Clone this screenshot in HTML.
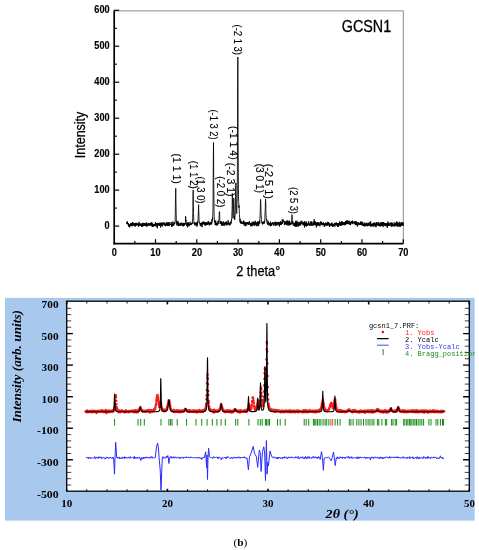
<!DOCTYPE html>
<html><head><meta charset="utf-8"><title>XRD patterns</title><style>
html,body{margin:0;padding:0;background:#fff;width:479px;height:550px;overflow:hidden}
svg{display:block}
.tl{font-family:"Liberation Sans",Arial,sans-serif;font-weight:bold;font-size:10.3px;fill:#000;stroke:#000;stroke-width:0.15px}
.al{font-family:"Liberation Sans",Arial,sans-serif;font-size:14px;fill:#000;stroke:#000;stroke-width:0.25px}
.al2{font-family:"Liberation Sans",Arial,sans-serif;font-size:14px;fill:#000;stroke:#000;stroke-width:0.25px}
.gc{font-family:"Liberation Sans",Arial,sans-serif;font-size:16.4px;fill:#000;stroke:#000;stroke-width:0.3px}
.pk{font-family:"Liberation Sans",Arial,sans-serif;font-size:10.2px;fill:#000;stroke:#000;stroke-width:0.12px}
.bl{font-family:"Liberation Serif","Times New Roman",serif;font-weight:bold;font-size:10.6px;fill:#000}
.by{font-family:"Liberation Serif","Times New Roman",serif;font-weight:bold;font-style:italic;font-size:11.8px;fill:#000}
.by2{font-family:"Liberation Serif","Times New Roman",serif;font-weight:bold;font-style:italic;font-size:13px;fill:#000}
.lg{font-family:"Liberation Mono","Courier New",monospace;font-size:7px}
.cap{font-family:"Liberation Serif","Times New Roman",serif;font-size:11.3px;fill:#000}
</style></head>
<body>
<svg width="479" height="550" viewBox="0 0 479 550">
<defs><clipPath id="cb"><rect x="0" y="0" width="474.8" height="550"/></clipPath></defs>
<rect width="479" height="550" fill="#fff"/>
<line x1="114.2" y1="10.9" x2="403.3" y2="10.9" stroke="#8a8a8a" stroke-width="1"/><line x1="403.3" y1="10.9" x2="403.3" y2="243.6" stroke="#8a8a8a" stroke-width="1"/><line x1="114.2" y1="10.4" x2="114.2" y2="244.4" stroke="#000" stroke-width="1.7"/><line x1="113.4" y1="243.6" x2="403.3" y2="243.6" stroke="#000" stroke-width="1.6"/><line x1="114.2" y1="226.1" x2="119.2" y2="226.1" stroke="#000" stroke-width="1.2"/><line x1="114.2" y1="208.1" x2="116.8" y2="208.1" stroke="#000" stroke-width="1.2"/><line x1="114.2" y1="190.1" x2="119.2" y2="190.1" stroke="#000" stroke-width="1.2"/><line x1="114.2" y1="172.1" x2="116.8" y2="172.1" stroke="#000" stroke-width="1.2"/><line x1="114.2" y1="154.2" x2="119.2" y2="154.2" stroke="#000" stroke-width="1.2"/><line x1="114.2" y1="136.2" x2="116.8" y2="136.2" stroke="#000" stroke-width="1.2"/><line x1="114.2" y1="118.2" x2="119.2" y2="118.2" stroke="#000" stroke-width="1.2"/><line x1="114.2" y1="100.2" x2="116.8" y2="100.2" stroke="#000" stroke-width="1.2"/><line x1="114.2" y1="82.2" x2="119.2" y2="82.2" stroke="#000" stroke-width="1.2"/><line x1="114.2" y1="64.2" x2="116.8" y2="64.2" stroke="#000" stroke-width="1.2"/><line x1="114.2" y1="46.2" x2="119.2" y2="46.2" stroke="#000" stroke-width="1.2"/><line x1="114.2" y1="28.3" x2="116.8" y2="28.3" stroke="#000" stroke-width="1.2"/><line x1="114.2" y1="10.3" x2="119.2" y2="10.3" stroke="#000" stroke-width="1.2"/><line x1="134.8" y1="243.6" x2="134.8" y2="241.0" stroke="#000" stroke-width="1.2"/><line x1="155.5" y1="243.6" x2="155.5" y2="239.2" stroke="#000" stroke-width="1.2"/><line x1="176.2" y1="243.6" x2="176.2" y2="241.0" stroke="#000" stroke-width="1.2"/><line x1="196.8" y1="243.6" x2="196.8" y2="239.2" stroke="#000" stroke-width="1.2"/><line x1="217.4" y1="243.6" x2="217.4" y2="241.0" stroke="#000" stroke-width="1.2"/><line x1="238.1" y1="243.6" x2="238.1" y2="239.2" stroke="#000" stroke-width="1.2"/><line x1="258.8" y1="243.6" x2="258.8" y2="241.0" stroke="#000" stroke-width="1.2"/><line x1="279.4" y1="243.6" x2="279.4" y2="239.2" stroke="#000" stroke-width="1.2"/><line x1="300.1" y1="243.6" x2="300.1" y2="241.0" stroke="#000" stroke-width="1.2"/><line x1="320.7" y1="243.6" x2="320.7" y2="239.2" stroke="#000" stroke-width="1.2"/><line x1="341.4" y1="243.6" x2="341.4" y2="241.0" stroke="#000" stroke-width="1.2"/><line x1="362.0" y1="243.6" x2="362.0" y2="239.2" stroke="#000" stroke-width="1.2"/><line x1="382.6" y1="243.6" x2="382.6" y2="241.0" stroke="#000" stroke-width="1.2"/><line x1="403.3" y1="243.6" x2="403.3" y2="239.2" stroke="#000" stroke-width="1.2"/>
<polyline points="126.4,223.1 126.5,222.6 126.6,223.2 126.8,223.8 126.9,223.2 127.0,223.9 127.1,222.6 127.3,221.2 127.4,223.4 127.5,223.7 127.6,222.5 127.7,222.8 127.9,223.3 128.0,224.6 128.1,223.7 128.2,223.0 128.4,225.5 128.5,224.6 128.6,226.4 128.7,225.8 128.9,226.5 129.0,224.6 129.1,225.9 129.2,224.1 129.4,224.2 129.5,224.7 129.6,227.4 129.7,225.1 129.9,224.5 130.0,224.3 130.1,226.3 130.2,225.0 130.3,225.6 130.5,225.4 130.6,223.2 130.7,225.4 130.8,224.5 131.0,223.4 131.1,225.2 131.2,224.6 131.3,224.3 131.5,224.4 131.6,225.9 131.7,224.4 131.8,222.9 132.0,226.3 132.1,223.5 132.2,224.3 132.3,225.2 132.5,222.1 132.6,223.6 132.7,225.9 132.8,224.4 133.0,223.8 133.1,224.7 133.2,223.7 133.3,224.6 133.4,223.7 133.6,222.8 133.7,225.3 133.8,224.2 133.9,225.0 134.1,224.3 134.2,225.9 134.3,225.2 134.4,224.7 134.6,223.4 134.7,223.1 134.8,226.0 134.9,225.4 135.1,223.7 135.2,226.8 135.3,225.0 135.4,224.6 135.6,223.0 135.7,223.7 135.8,224.9 135.9,224.9 136.0,224.8 136.2,222.7 136.3,225.0 136.4,224.8 136.5,224.1 136.7,224.6 136.8,224.7 136.9,225.8 137.0,224.5 137.2,225.0 137.3,223.1 137.4,223.7 137.5,224.5 137.7,223.7 137.8,224.9 137.9,223.2 138.0,224.5 138.2,223.8 138.3,226.0 138.4,224.1 138.5,226.5 138.6,226.9 138.8,224.8 138.9,225.5 139.0,224.3 139.1,221.8 139.3,225.5 139.4,225.2 139.5,224.2 139.6,223.9 139.8,224.7 139.9,224.7 140.0,223.6 140.1,223.9 140.3,225.7 140.4,224.6 140.5,224.4 140.6,225.7 140.8,224.2 140.9,225.5 141.0,223.3 141.1,224.2 141.3,224.4 141.4,225.2 141.5,224.6 141.6,226.8 141.7,225.8 141.9,224.0 142.0,227.0 142.1,223.5 142.2,226.5 142.4,223.6 142.5,225.5 142.6,223.5 142.7,224.3 142.9,226.3 143.0,223.0 143.1,222.8 143.2,224.6 143.4,224.8 143.5,224.7 143.6,225.6 143.7,223.2 143.9,225.1 144.0,224.5 144.1,225.4 144.2,225.2 144.3,226.0 144.5,223.0 144.6,224.7 144.7,223.3 144.8,224.5 145.0,225.3 145.1,224.9 145.2,225.1 145.3,224.5 145.5,224.9 145.6,224.8 145.7,226.1 145.8,225.4 146.0,222.5 146.1,225.3 146.2,225.7 146.3,224.1 146.5,222.8 146.6,226.2 146.7,224.7 146.8,225.2 147.0,226.6 147.1,223.6 147.2,224.5 147.3,224.4 147.4,225.4 147.6,223.9 147.7,225.1 147.8,224.6 147.9,225.8 148.1,225.9 148.2,222.9 148.3,225.1 148.4,224.1 148.6,224.5 148.7,225.0 148.8,225.1 148.9,223.7 149.1,224.8 149.2,224.6 149.3,224.4 149.4,223.1 149.6,223.7 149.7,224.0 149.8,225.1 149.9,226.1 150.0,223.3 150.2,223.3 150.3,224.6 150.4,223.8 150.5,223.5 150.7,223.5 150.8,223.4 150.9,225.0 151.0,222.7 151.2,225.9 151.3,223.4 151.4,223.9 151.5,223.4 151.7,222.2 151.8,222.7 151.9,225.8 152.0,226.5 152.2,223.5 152.3,225.7 152.4,224.5 152.5,223.5 152.7,226.4 152.8,227.0 152.9,224.2 153.0,224.4 153.1,224.8 153.3,224.4 153.4,225.5 153.5,226.3 153.6,224.7 153.8,225.6 153.9,226.4 154.0,223.9 154.1,224.5 154.3,224.0 154.4,225.6 154.5,225.2 154.6,225.6 154.8,225.5 154.9,224.2 155.0,225.4 155.1,224.0 155.3,224.1 155.4,222.1 155.5,226.1 155.6,223.4 155.7,224.6 155.9,224.5 156.0,226.2 156.1,225.0 156.2,223.6 156.4,224.6 156.5,224.4 156.6,224.8 156.7,223.1 156.9,224.5 157.0,227.1 157.1,225.3 157.2,226.8 157.4,228.3 157.5,225.1 157.6,222.9 157.7,224.4 157.9,225.8 158.0,225.6 158.1,223.1 158.2,224.3 158.3,224.4 158.5,224.5 158.6,224.4 158.7,223.5 158.8,223.8 159.0,224.2 159.1,225.7 159.2,223.8 159.3,225.3 159.5,223.2 159.6,226.0 159.7,224.6 159.8,224.5 160.0,226.0 160.1,222.4 160.2,222.7 160.3,225.0 160.5,223.5 160.6,224.0 160.7,227.5 160.8,224.1 161.0,224.5 161.1,224.3 161.2,225.7 161.3,224.8 161.4,224.7 161.6,223.0 161.7,224.0 161.8,224.4 161.9,222.6 162.1,225.1 162.2,224.9 162.3,226.6 162.4,222.6 162.6,223.3 162.7,223.4 162.8,223.6 162.9,224.3 163.1,224.2 163.2,224.7 163.3,224.7 163.4,224.4 163.6,222.6 163.7,223.8 163.8,224.5 163.9,225.1 164.0,225.2 164.2,222.5 164.3,223.8 164.4,224.3 164.5,224.8 164.7,225.7 164.8,224.5 164.9,223.4 165.0,224.9 165.2,224.7 165.3,224.7 165.4,224.3 165.5,226.3 165.7,224.7 165.8,225.4 165.9,223.4 166.0,225.3 166.2,223.7 166.3,222.6 166.4,224.8 166.5,225.1 166.7,224.2 166.8,224.4 166.9,225.6 167.0,223.9 167.1,222.0 167.3,224.7 167.4,224.6 167.5,225.6 167.6,224.0 167.8,225.9 167.9,225.7 168.0,222.9 168.1,225.5 168.3,223.1 168.4,222.6 168.5,224.1 168.6,223.7 168.8,222.1 168.9,224.6 169.0,225.1 169.1,226.0 169.3,224.3 169.4,222.6 169.5,223.2 169.6,225.5 169.7,225.4 169.9,225.0 170.0,224.0 170.1,224.6 170.2,224.1 170.4,224.0 170.5,224.7 170.6,224.4 170.7,224.1 170.9,224.4 171.0,223.7 171.1,222.1 171.2,223.6 171.4,224.3 171.5,226.3 171.6,223.8 171.7,226.6 171.9,226.0 172.0,223.3 172.1,223.4 172.2,224.4 172.4,226.3 172.5,224.7 172.6,225.0 172.7,223.5 172.8,221.5 173.0,223.9 173.1,225.1 173.2,225.5 173.3,224.2 173.5,224.3 173.6,225.4 173.7,223.8 173.8,225.3 174.0,222.5 174.1,222.5 174.2,222.4 174.3,224.1 174.5,222.8 174.6,223.3 174.7,223.4 174.8,222.9 175.0,223.4 175.1,222.4 175.2,217.3 175.3,213.8 175.4,205.6 175.6,194.5 175.7,190.0 175.7,188.3 175.8,189.6 175.9,198.7 176.1,209.2 176.2,214.3 176.3,219.0 176.4,222.6 176.6,223.2 176.7,221.7 176.8,222.4 176.9,225.5 177.1,221.8 177.2,222.9 177.3,222.1 177.4,224.2 177.6,224.2 177.7,225.2 177.8,220.9 177.9,224.2 178.0,222.1 178.2,224.8 178.3,223.9 178.4,226.1 178.5,224.6 178.7,223.0 178.8,225.6 178.9,222.9 179.0,223.8 179.2,225.4 179.3,224.8 179.4,224.7 179.5,224.3 179.7,224.8 179.8,225.2 179.9,224.6 180.0,225.4 180.2,225.8 180.3,224.3 180.4,223.2 180.5,226.0 180.7,224.2 180.8,225.0 180.9,225.4 181.0,223.2 181.1,224.9 181.3,222.5 181.4,225.2 181.5,223.8 181.6,224.5 181.8,225.1 181.9,223.5 182.0,224.4 182.1,223.5 182.3,224.3 182.4,225.5 182.5,224.3 182.6,224.2 182.8,223.1 182.9,225.3 183.0,224.2 183.1,226.2 183.3,223.4 183.4,225.5 183.5,226.3 183.6,224.2 183.7,222.8 183.9,225.9 184.0,225.4 184.1,225.0 184.2,225.4 184.4,223.6 184.5,225.0 184.6,224.8 184.7,223.2 184.9,224.6 185.0,223.0 185.1,224.2 185.2,223.6 185.4,222.8 185.5,216.4 185.6,217.5 185.6,216.7 185.7,217.5 185.9,219.1 186.0,221.1 186.1,220.2 186.2,224.4 186.4,225.4 186.5,225.0 186.6,225.4 186.7,223.0 186.8,223.0 187.0,225.1 187.1,225.7 187.2,224.5 187.3,222.4 187.5,227.4 187.6,223.4 187.7,225.4 187.8,222.8 188.0,225.4 188.1,224.4 188.2,225.9 188.3,225.2 188.5,222.4 188.6,223.1 188.7,224.6 188.8,225.1 189.0,226.3 189.1,224.5 189.2,224.1 189.3,224.1 189.4,224.2 189.6,225.4 189.7,224.1 189.8,224.1 189.9,222.5 190.1,221.8 190.2,224.1 190.3,224.9 190.4,224.0 190.6,224.6 190.7,224.8 190.8,223.9 190.9,225.1 191.1,223.1 191.2,223.9 191.3,223.4 191.4,223.8 191.6,224.4 191.7,224.6 191.8,223.6 191.9,223.8 192.1,222.7 192.2,222.6 192.3,223.8 192.4,221.4 192.5,221.7 192.7,218.1 192.8,212.6 192.9,206.7 193.0,194.9 193.2,190.1 193.2,190.5 193.3,195.5 193.4,204.7 193.5,213.4 193.7,217.7 193.8,220.8 193.9,221.3 194.0,223.6 194.2,222.3 194.3,222.7 194.4,223.2 194.5,223.7 194.7,222.7 194.8,225.4 194.9,223.0 195.0,223.3 195.1,223.3 195.3,223.2 195.4,224.4 195.5,224.0 195.6,222.9 195.8,223.2 195.9,223.5 196.0,225.5 196.1,223.1 196.3,222.3 196.4,222.5 196.5,223.4 196.6,225.5 196.8,222.5 196.9,223.8 197.0,226.6 197.1,223.1 197.3,225.2 197.4,224.9 197.5,224.0 197.6,221.5 197.7,223.2 197.9,221.9 198.0,219.2 198.1,217.5 198.2,216.0 198.4,211.3 198.5,207.6 198.6,205.7 198.6,204.7 198.7,208.7 198.9,214.3 199.0,217.2 199.1,221.7 199.2,222.1 199.4,221.8 199.5,222.3 199.6,221.9 199.7,222.8 199.9,223.8 200.0,223.1 200.1,224.7 200.2,225.5 200.4,223.0 200.5,223.7 200.6,223.3 200.7,225.7 200.8,224.2 201.0,224.5 201.1,224.8 201.2,226.4 201.3,224.2 201.5,222.7 201.6,223.3 201.7,224.5 201.8,223.8 202.0,222.9 202.1,227.1 202.2,224.0 202.3,223.2 202.5,223.0 202.6,221.8 202.7,222.5 202.8,223.4 203.0,223.4 203.1,222.9 203.2,224.4 203.3,223.8 203.4,222.7 203.6,221.5 203.7,224.0 203.8,223.9 203.9,223.6 204.1,222.2 204.2,223.8 204.3,222.0 204.4,224.9 204.6,224.0 204.7,224.0 204.8,222.8 204.9,222.5 205.1,225.6 205.2,224.8 205.3,223.4 205.4,224.5 205.6,225.6 205.7,222.5 205.8,223.2 205.9,223.2 206.1,224.3 206.2,222.5 206.3,224.0 206.4,222.4 206.5,224.8 206.7,224.7 206.8,223.5 206.9,224.5 207.0,222.9 207.2,223.4 207.3,224.8 207.4,223.6 207.5,224.1 207.7,222.6 207.8,224.4 207.9,224.2 208.0,222.2 208.2,221.0 208.3,221.2 208.4,223.5 208.5,223.3 208.7,221.8 208.8,223.7 208.9,224.7 209.0,223.4 209.1,223.0 209.3,224.5 209.4,225.5 209.5,225.2 209.6,222.7 209.8,224.4 209.9,223.6 210.0,223.2 210.1,222.7 210.3,223.8 210.4,222.7 210.5,224.4 210.6,223.7 210.8,224.4 210.9,221.8 211.0,223.1 211.1,223.9 211.3,223.4 211.4,223.1 211.5,221.9 211.6,224.5 211.8,223.7 211.9,222.8 212.0,219.1 212.1,220.7 212.2,221.6 212.4,220.1 212.5,217.8 212.6,219.5 212.7,218.0 212.9,213.0 213.0,207.4 213.1,195.1 213.2,177.8 213.4,153.2 213.5,142.5 213.5,143.8 213.6,154.7 213.7,179.5 213.9,195.1 214.0,208.2 214.1,213.8 214.2,216.7 214.4,219.6 214.5,222.2 214.6,220.4 214.7,222.2 214.8,222.1 215.0,222.7 215.1,222.6 215.2,225.2 215.3,221.1 215.5,222.4 215.6,221.5 215.7,220.5 215.8,222.9 216.0,225.1 216.1,224.1 216.2,224.5 216.3,223.7 216.5,223.0 216.6,225.5 216.7,222.8 216.8,225.0 217.0,222.8 217.1,223.3 217.2,223.6 217.3,223.3 217.4,223.8 217.6,223.9 217.7,225.2 217.8,223.2 217.9,220.9 218.1,220.7 218.2,221.5 218.3,222.1 218.4,223.7 218.6,221.0 218.7,222.5 218.8,221.9 218.9,220.9 219.1,218.3 219.2,215.9 219.3,212.5 219.4,212.9 219.4,212.2 219.6,211.6 219.7,217.6 219.8,220.3 219.9,220.9 220.1,221.4 220.2,224.0 220.3,223.1 220.4,221.9 220.5,222.7 220.7,223.0 220.8,221.3 220.9,224.0 221.0,223.2 221.2,223.9 221.3,221.5 221.4,225.6 221.5,224.1 221.7,224.0 221.8,222.6 221.9,222.6 222.0,221.7 222.2,225.2 222.3,222.5 222.4,223.7 222.5,224.2 222.7,222.8 222.8,224.5 222.9,225.9 223.0,223.8 223.1,225.2 223.3,224.2 223.4,223.0 223.5,223.0 223.6,221.5 223.8,223.6 223.9,225.2 224.0,224.3 224.1,224.5 224.3,224.8 224.4,222.9 224.5,224.2 224.6,225.7 224.8,222.6 224.9,223.5 225.0,223.0 225.1,223.3 225.3,222.6 225.4,223.3 225.5,221.9 225.6,222.9 225.8,222.9 225.9,222.9 226.0,225.1 226.1,223.6 226.2,223.7 226.4,223.1 226.5,225.0 226.6,221.4 226.7,223.2 226.9,224.8 227.0,225.4 227.1,223.7 227.2,223.4 227.4,224.2 227.5,223.2 227.6,224.1 227.7,222.6 227.9,224.1 228.0,223.3 228.1,222.1 228.2,220.2 228.4,224.4 228.5,223.8 228.6,224.2 228.7,222.3 228.8,224.5 229.0,223.7 229.1,223.2 229.2,224.3 229.3,224.2 229.5,223.6 229.6,225.5 229.7,224.7 229.8,223.5 230.0,222.8 230.1,223.1 230.2,225.0 230.3,223.3 230.5,221.8 230.6,222.0 230.7,222.6 230.8,223.5 231.0,221.6 231.1,222.8 231.2,223.3 231.3,222.6 231.5,219.5 231.6,220.4 231.7,218.2 231.8,218.2 231.9,213.1 232.1,209.7 232.2,202.5 232.3,193.5 232.4,194.1 232.4,195.9 232.6,199.8 232.7,205.7 232.8,210.0 232.9,215.5 233.1,218.4 233.2,216.3 233.3,213.8 233.4,209.9 233.6,203.3 233.7,199.9 233.8,198.2 233.8,200.8 233.9,202.2 234.1,206.1 234.2,212.2 234.3,215.9 234.4,217.7 234.5,216.5 234.7,219.9 234.8,218.7 234.9,217.4 235.0,215.8 235.2,214.9 235.3,210.2 235.4,205.0 235.5,196.8 235.7,188.9 235.8,184.7 235.8,182.9 235.9,183.2 236.0,191.6 236.2,198.5 236.3,203.9 236.4,210.4 236.5,211.3 236.7,213.5 236.8,210.4 236.9,207.2 237.0,203.8 237.2,199.2 237.3,184.3 237.4,161.7 237.5,127.6 237.6,86.3 237.8,62.1 237.8,57.0 237.9,66.5 238.0,98.6 238.1,138.4 238.3,169.2 238.4,186.8 238.5,196.1 238.6,201.4 238.8,202.8 238.9,205.4 238.9,207.8 239.0,205.3 239.1,207.8 239.3,210.9 239.4,213.3 239.5,214.2 239.6,217.7 239.8,219.3 239.9,219.6 240.0,218.7 240.1,222.3 240.2,219.6 240.4,222.1 240.5,222.9 240.6,220.3 240.7,222.1 240.9,223.7 241.0,222.7 241.1,221.3 241.2,221.1 241.4,223.1 241.5,222.2 241.6,221.9 241.7,223.5 241.9,222.4 242.0,222.9 242.1,223.6 242.2,223.6 242.4,222.9 242.5,223.0 242.6,223.8 242.7,223.6 242.8,221.8 243.0,222.9 243.1,222.2 243.2,221.8 243.3,222.6 243.5,220.6 243.6,224.3 243.7,222.4 243.8,223.7 244.0,221.2 244.1,221.4 244.2,225.7 244.3,224.6 244.5,222.6 244.6,222.5 244.7,222.6 244.8,223.6 245.0,222.9 245.1,222.7 245.2,223.6 245.3,222.3 245.5,226.2 245.6,222.8 245.7,224.8 245.8,222.4 245.9,223.8 246.1,224.6 246.2,223.1 246.3,224.7 246.4,224.7 246.6,225.5 246.7,223.6 246.8,223.0 246.9,222.4 247.1,223.8 247.2,222.4 247.3,223.6 247.4,223.8 247.6,223.0 247.7,222.4 247.8,224.1 247.9,224.0 248.1,223.9 248.2,223.6 248.3,224.7 248.4,222.5 248.5,224.2 248.7,223.1 248.8,224.7 248.9,223.3 249.0,223.2 249.2,224.2 249.3,221.3 249.4,223.3 249.5,221.6 249.7,222.6 249.8,224.5 249.9,224.2 250.0,223.2 250.2,223.7 250.3,223.7 250.4,224.1 250.5,225.9 250.7,224.0 250.8,226.4 250.9,223.3 251.0,224.6 251.2,224.6 251.3,224.0 251.4,223.4 251.5,225.4 251.6,225.8 251.8,225.0 251.9,226.2 252.0,224.9 252.1,221.9 252.3,225.0 252.4,223.0 252.5,225.4 252.6,223.4 252.8,224.1 252.9,223.8 253.0,223.1 253.1,221.7 253.3,223.5 253.4,223.6 253.5,224.9 253.6,223.1 253.8,224.1 253.9,222.8 254.0,223.8 254.1,221.7 254.2,226.1 254.4,224.1 254.5,222.7 254.6,224.2 254.7,224.7 254.9,224.1 255.0,225.4 255.1,223.6 255.2,220.8 255.4,222.4 255.5,225.0 255.6,224.8 255.7,224.2 255.9,222.5 256.0,224.7 256.1,224.5 256.2,222.6 256.4,222.7 256.5,224.1 256.6,225.0 256.7,225.5 256.9,224.5 257.0,226.3 257.1,222.7 257.2,224.4 257.3,223.0 257.5,221.4 257.6,222.2 257.7,224.9 257.8,222.5 258.0,222.1 258.1,224.3 258.2,224.6 258.3,223.5 258.5,225.2 258.6,221.5 258.7,226.1 258.8,224.4 259.0,223.3 259.1,223.2 259.2,222.5 259.3,222.2 259.5,222.5 259.6,220.5 259.7,223.7 259.8,220.1 259.9,219.1 260.1,215.4 260.2,211.6 260.3,208.5 260.4,203.7 260.6,199.3 260.6,199.6 260.7,201.6 260.8,201.9 260.9,206.2 261.1,214.9 261.2,216.2 261.3,215.9 261.4,219.5 261.6,221.1 261.7,222.1 261.8,222.9 261.9,222.7 262.1,223.3 262.2,221.9 262.3,223.3 262.4,223.5 262.5,224.4 262.7,223.1 262.8,224.1 262.9,223.3 263.0,221.8 263.2,222.6 263.3,222.5 263.4,222.6 263.5,222.9 263.7,223.1 263.8,223.2 263.9,221.9 264.0,223.9 264.2,220.9 264.3,222.2 264.4,222.8 264.5,222.0 264.7,221.4 264.8,219.1 264.9,218.0 265.0,212.6 265.2,210.7 265.3,207.6 265.4,201.5 265.5,201.3 265.5,198.9 265.6,199.4 265.8,204.2 265.9,211.4 266.0,214.9 266.1,215.0 266.3,218.9 266.4,220.7 266.5,220.2 266.6,219.1 266.8,220.8 266.9,222.4 267.0,222.3 267.1,222.1 267.3,223.7 267.4,224.3 267.5,223.1 267.6,224.3 267.8,223.3 267.9,223.2 268.0,220.6 268.1,224.4 268.2,223.5 268.4,223.6 268.5,222.9 268.6,222.2 268.7,224.1 268.9,224.5 269.0,225.5 269.1,224.6 269.2,222.9 269.4,223.5 269.5,224.8 269.6,224.0 269.7,223.5 269.9,223.0 270.0,224.3 270.1,223.9 270.2,225.7 270.4,225.0 270.5,221.7 270.6,226.2 270.7,224.0 270.9,223.3 271.0,224.1 271.1,224.6 271.2,223.7 271.3,223.6 271.5,223.7 271.6,225.8 271.7,223.8 271.8,224.6 272.0,224.3 272.1,223.4 272.2,222.9 272.3,222.6 272.5,224.2 272.6,222.5 272.7,222.2 272.8,222.3 273.0,222.0 273.1,223.8 273.2,223.8 273.3,222.7 273.5,225.3 273.6,223.4 273.7,224.3 273.8,224.1 273.9,225.7 274.1,224.7 274.2,223.7 274.3,222.6 274.4,222.5 274.6,223.7 274.7,223.9 274.8,224.6 274.9,223.2 275.1,223.9 275.2,222.9 275.3,221.6 275.4,223.7 275.6,225.4 275.7,224.7 275.8,225.4 275.9,225.1 276.1,222.1 276.2,223.4 276.3,225.4 276.4,222.9 276.6,222.1 276.7,224.1 276.8,224.4 276.9,224.0 277.0,223.3 277.2,222.9 277.3,222.2 277.4,222.2 277.5,222.2 277.7,222.0 277.8,222.8 277.9,225.4 278.0,223.8 278.2,223.3 278.3,224.1 278.4,222.5 278.5,224.0 278.7,224.7 278.8,221.9 278.9,222.8 279.0,223.4 279.2,222.5 279.3,222.4 279.4,223.2 279.5,226.5 279.6,224.4 279.8,224.1 279.9,224.8 280.0,223.4 280.1,222.2 280.3,224.2 280.4,224.9 280.5,221.2 280.6,224.1 280.8,225.0 280.9,223.3 281.0,223.0 281.1,224.4 281.3,222.6 281.4,224.1 281.5,224.6 281.6,223.2 281.8,222.4 281.9,224.0 282.0,222.8 282.1,223.1 282.2,219.5 282.4,223.4 282.5,220.6 282.6,221.9 282.7,221.7 282.9,220.3 283.0,219.8 283.1,219.3 283.1,220.4 283.2,221.6 283.4,221.8 283.5,220.9 283.6,221.2 283.7,220.6 283.9,222.1 284.0,221.6 284.1,221.2 284.2,223.0 284.4,225.0 284.5,224.8 284.6,225.1 284.7,221.6 284.9,224.5 285.0,222.0 285.1,222.8 285.2,221.5 285.3,222.3 285.5,223.6 285.6,223.7 285.7,223.4 285.8,223.3 286.0,224.0 286.1,223.4 286.2,221.3 286.3,225.1 286.5,222.6 286.6,223.8 286.7,222.3 286.8,221.2 287.0,222.0 287.1,220.8 287.2,223.5 287.2,220.3 287.3,222.3 287.5,221.0 287.6,221.8 287.7,225.4 287.8,223.5 287.9,222.6 288.1,221.2 288.2,222.9 288.3,223.1 288.4,225.1 288.6,221.8 288.7,221.4 288.8,223.6 288.9,223.9 289.1,225.6 289.2,222.6 289.3,220.5 289.4,222.8 289.6,222.2 289.7,223.0 289.8,224.9 289.9,222.1 290.1,225.1 290.2,223.9 290.3,223.3 290.4,222.6 290.6,223.1 290.7,223.1 290.8,224.4 290.9,224.9 291.0,223.1 291.2,223.8 291.3,224.0 291.4,223.0 291.5,220.6 291.7,220.2 291.8,217.5 291.9,216.9 291.9,214.7 292.0,215.4 292.2,215.6 292.3,221.8 292.4,222.4 292.5,221.4 292.7,223.3 292.8,223.7 292.9,221.4 293.0,224.0 293.2,225.0 293.3,225.3 293.4,223.3 293.5,223.4 293.6,225.4 293.8,225.0 293.9,223.2 294.0,223.2 294.1,224.7 294.3,223.2 294.4,223.2 294.5,226.0 294.6,224.3 294.8,223.5 294.9,224.6 295.0,226.5 295.1,224.3 295.3,223.1 295.4,222.1 295.5,226.6 295.6,220.9 295.8,225.3 295.9,222.9 296.0,222.6 296.1,222.9 296.3,223.9 296.4,225.4 296.5,223.3 296.6,224.9 296.7,227.0 296.9,220.7 297.0,223.2 297.1,221.9 297.2,225.1 297.4,222.3 297.5,222.2 297.6,222.2 297.7,224.1 297.9,225.5 298.0,224.3 298.1,226.7 298.2,226.1 298.4,224.0 298.5,225.3 298.6,224.3 298.7,224.2 298.9,221.8 299.0,222.5 299.1,224.1 299.2,222.6 299.3,225.0 299.5,224.5 299.6,223.0 299.7,225.5 299.8,224.4 300.0,225.6 300.1,223.9 300.2,222.0 300.3,224.8 300.5,223.6 300.6,224.9 300.7,225.1 300.8,225.1 301.0,221.8 301.1,220.6 301.2,222.7 301.3,223.9 301.5,222.0 301.6,223.1 301.7,221.5 301.8,221.9 301.9,221.8 302.1,221.4 302.1,222.8 302.2,222.6 302.3,224.2 302.4,222.9 302.6,224.2 302.7,222.9 302.8,224.1 302.9,223.1 303.1,222.8 303.2,225.2 303.3,224.6 303.4,224.9 303.6,223.0 303.7,221.9 303.8,223.0 303.9,224.5 304.1,222.3 304.2,225.9 304.3,222.4 304.4,224.9 304.6,227.5 304.7,221.0 304.8,222.3 304.9,225.4 305.0,224.0 305.2,224.5 305.3,224.1 305.4,226.0 305.5,225.1 305.7,223.7 305.8,224.0 305.9,222.8 306.0,224.2 306.2,221.5 306.3,225.1 306.4,224.0 306.5,226.6 306.7,225.8 306.8,222.7 306.9,225.4 307.0,223.7 307.2,224.4 307.3,225.5 307.4,224.7 307.5,224.9 307.6,224.9 307.8,223.4 307.9,223.5 308.0,225.0 308.1,225.4 308.3,224.0 308.4,224.4 308.5,223.1 308.6,221.2 308.8,223.3 308.9,224.4 309.0,224.5 309.1,225.4 309.3,225.4 309.4,225.5 309.5,224.8 309.6,224.8 309.8,223.5 309.9,224.8 310.0,224.6 310.1,225.8 310.3,222.4 310.4,223.7 310.5,222.2 310.6,223.4 310.7,222.6 310.9,224.6 311.0,223.5 311.1,221.1 311.2,225.8 311.4,222.9 311.5,222.3 311.6,223.8 311.7,223.4 311.9,222.8 312.0,225.1 312.1,223.8 312.2,225.3 312.4,225.1 312.5,225.0 312.6,224.4 312.7,224.0 312.9,223.6 313.0,225.8 313.1,221.6 313.2,222.6 313.3,223.0 313.5,224.2 313.6,223.7 313.7,222.8 313.8,222.8 314.0,225.2 314.1,222.0 314.2,219.2 314.3,224.9 314.5,221.4 314.5,222.2 314.6,222.8 314.7,221.0 314.8,224.3 315.0,222.8 315.1,221.4 315.2,223.6 315.3,224.0 315.5,223.5 315.6,224.3 315.7,222.0 315.8,225.1 316.0,223.0 316.1,225.7 316.2,223.4 316.3,224.3 316.4,227.4 316.6,224.3 316.7,225.6 316.8,224.8 316.9,222.4 317.1,225.7 317.2,225.6 317.3,222.6 317.4,224.2 317.6,222.5 317.7,224.0 317.8,225.4 317.9,224.4 318.1,222.9 318.2,223.2 318.3,224.4 318.4,224.3 318.6,224.5 318.7,225.1 318.8,222.0 318.9,224.3 319.0,225.7 319.2,224.9 319.3,223.4 319.4,223.5 319.5,224.5 319.7,225.1 319.8,224.3 319.9,226.3 320.0,225.8 320.2,223.3 320.3,224.8 320.4,223.7 320.5,222.6 320.7,223.2 320.8,223.9 320.9,221.2 321.0,222.8 321.2,223.9 321.3,222.4 321.4,222.6 321.5,224.0 321.6,222.7 321.8,222.9 321.9,225.1 321.9,222.9 322.0,223.0 322.1,223.3 322.3,224.9 322.4,223.5 322.5,223.3 322.6,223.3 322.8,224.9 322.9,222.9 323.0,225.3 323.1,224.2 323.3,222.4 323.4,225.0 323.5,224.8 323.6,222.9 323.8,224.7 323.9,224.6 324.0,224.0 324.1,223.0 324.3,227.0 324.4,225.4 324.5,225.6 324.6,225.7 324.7,225.4 324.9,225.4 325.0,224.0 325.1,225.5 325.2,224.2 325.4,223.9 325.5,225.3 325.6,224.3 325.7,222.4 325.9,224.0 326.0,225.2 326.1,224.5 326.2,225.5 326.4,224.1 326.5,223.4 326.6,225.4 326.7,224.7 326.9,223.1 327.0,225.0 327.1,224.2 327.2,225.7 327.3,225.4 327.5,225.1 327.6,221.8 327.7,224.9 327.8,225.1 328.0,225.1 328.1,224.6 328.2,223.7 328.3,224.2 328.5,222.0 328.6,224.2 328.7,222.7 328.8,224.1 329.0,223.7 329.1,226.1 329.2,224.6 329.3,224.5 329.5,224.7 329.6,227.0 329.7,223.4 329.8,224.9 330.0,224.9 330.1,224.7 330.2,224.7 330.3,223.9 330.4,225.9 330.6,225.5 330.7,224.1 330.8,224.2 330.9,224.9 331.1,225.1 331.2,225.4 331.3,224.5 331.4,223.0 331.6,225.7 331.7,222.6 331.8,223.4 331.9,224.9 332.1,223.5 332.2,226.1 332.3,226.5 332.4,225.9 332.6,224.9 332.7,224.8 332.8,225.0 332.9,224.3 333.0,226.9 333.2,223.8 333.3,226.1 333.4,225.2 333.5,224.9 333.7,225.7 333.8,226.0 333.9,225.5 334.0,224.4 334.2,223.6 334.3,223.7 334.4,225.5 334.5,225.3 334.7,225.4 334.8,223.8 334.9,226.7 335.0,222.8 335.2,224.9 335.3,225.2 335.4,223.9 335.5,223.1 335.7,223.9 335.8,223.0 335.9,224.1 336.0,222.8 336.1,222.8 336.3,224.4 336.4,222.5 336.5,224.0 336.6,224.1 336.8,225.3 336.9,224.6 337.0,223.3 337.1,225.8 337.3,223.4 337.4,223.8 337.5,223.9 337.6,226.8 337.8,224.3 337.9,223.4 338.0,225.1 338.1,224.0 338.3,227.0 338.4,223.3 338.5,224.9 338.6,223.1 338.7,226.3 338.9,223.3 339.0,224.4 339.1,223.1 339.2,225.2 339.4,224.8 339.5,221.4 339.6,225.0 339.7,224.9 339.9,224.3 340.0,225.2 340.1,222.6 340.2,221.9 340.4,224.8 340.5,226.0 340.6,222.5 340.7,222.6 340.9,222.9 341.0,222.5 341.1,224.9 341.2,224.1 341.3,225.5 341.5,225.5 341.6,222.7 341.7,224.6 341.8,221.1 342.0,223.7 342.1,224.5 342.2,222.8 342.3,221.6 342.5,223.2 342.6,225.2 342.7,223.3 342.8,222.1 343.0,224.3 343.1,224.6 343.2,222.4 343.3,223.5 343.5,224.9 343.6,224.0 343.7,224.5 343.8,223.2 344.0,223.4 344.1,222.1 344.2,222.6 344.3,225.3 344.4,222.9 344.6,222.3 344.7,222.7 344.8,222.0 344.9,223.8 345.1,224.1 345.2,221.8 345.3,224.0 345.4,225.1 345.6,221.1 345.7,223.0 345.8,222.2 345.9,223.3 346.1,223.1 346.2,222.7 346.3,221.7 346.3,220.9 346.4,224.1 346.6,220.6 346.7,223.0 346.8,223.1 346.9,221.2 347.0,222.3 347.2,224.2 347.3,220.4 347.4,223.7 347.5,222.5 347.7,222.7 347.8,221.3 347.9,223.6 348.0,221.9 348.2,224.0 348.3,221.8 348.4,224.1 348.5,223.6 348.7,221.0 348.8,222.8 348.9,223.1 349.0,220.6 349.2,222.8 349.3,224.2 349.4,222.3 349.5,224.6 349.7,221.8 349.8,221.7 349.9,223.8 350.0,223.8 350.1,222.8 350.3,223.0 350.4,224.1 350.5,222.1 350.6,225.1 350.8,223.1 350.9,222.9 351.0,222.6 351.1,221.7 351.3,223.4 351.4,221.1 351.5,221.9 351.6,222.4 351.7,223.2 351.8,223.0 351.9,221.3 352.0,223.0 352.1,221.9 352.3,220.9 352.4,221.2 352.5,220.7 352.6,223.1 352.7,224.1 352.9,221.8 353.0,222.7 353.1,221.8 353.2,223.2 353.4,221.9 353.5,222.3 353.6,222.5 353.7,222.8 353.9,223.0 354.0,223.2 354.1,223.2 354.2,222.3 354.4,224.1 354.5,221.5 354.6,223.7 354.7,222.4 354.9,223.7 355.0,223.9 355.1,221.2 355.2,224.0 355.4,225.1 355.5,224.5 355.6,224.0 355.7,221.1 355.8,223.4 356.0,222.6 356.1,224.9 356.2,223.3 356.3,222.9 356.5,221.6 356.6,224.6 356.7,223.1 356.8,223.4 357.0,225.0 357.1,223.8 357.2,224.1 357.3,226.6 357.5,223.1 357.6,223.2 357.7,224.4 357.8,225.5 358.0,222.1 358.1,223.6 358.2,222.7 358.3,222.3 358.4,224.6 358.6,223.0 358.7,224.2 358.8,224.0 358.9,224.1 359.1,224.0 359.2,222.7 359.3,223.9 359.4,224.2 359.6,224.4 359.7,223.6 359.8,225.1 359.9,224.7 360.1,224.1 360.2,224.8 360.3,224.2 360.4,224.8 360.6,221.7 360.7,222.5 360.8,223.6 360.9,224.2 361.1,221.6 361.2,223.8 361.3,224.3 361.4,223.8 361.5,223.8 361.7,222.5 361.8,224.2 361.9,221.7 362.0,225.3 362.2,223.4 362.3,225.4 362.4,222.1 362.5,224.6 362.7,224.3 362.8,223.2 362.9,222.8 363.0,225.6 363.2,224.7 363.3,225.9 363.4,224.1 363.5,224.4 363.7,224.7 363.8,225.1 363.9,224.8 364.0,225.2 364.1,223.7 364.3,222.5 364.4,226.6 364.5,224.5 364.6,224.8 364.8,223.8 364.9,225.5 365.0,224.5 365.1,225.6 365.3,223.5 365.4,224.3 365.5,224.6 365.6,223.9 365.8,224.7 365.9,226.2 366.0,223.7 366.1,224.0 366.3,224.6 366.4,223.2 366.5,223.0 366.6,225.7 366.7,225.3 366.9,222.6 367.0,222.7 367.1,225.3 367.2,225.8 367.4,225.2 367.5,225.0 367.6,226.3 367.7,224.4 367.9,225.9 368.0,225.9 368.1,223.3 368.2,225.2 368.4,224.5 368.5,223.7 368.6,223.5 368.7,224.8 368.9,224.4 369.0,225.4 369.1,222.4 369.2,223.7 369.4,225.8 369.5,224.4 369.6,223.6 369.7,223.9 369.8,222.3 370.0,222.8 370.1,225.1 370.2,224.6 370.3,226.0 370.5,224.2 370.6,224.3 370.7,221.2 370.8,224.3 371.0,226.9 371.1,225.3 371.2,224.3 371.3,226.0 371.5,225.5 371.6,224.9 371.7,224.1 371.8,224.7 372.0,225.5 372.1,223.5 372.2,225.1 372.3,225.1 372.4,226.1 372.6,225.4 372.7,223.7 372.8,226.4 372.9,224.6 373.1,223.6 373.2,224.9 373.3,224.2 373.4,225.8 373.6,222.9 373.7,223.2 373.8,224.2 373.9,226.6 374.1,225.7 374.2,223.3 374.3,222.4 374.4,224.1 374.6,223.0 374.7,225.2 374.8,224.7 374.9,224.5 375.1,224.0 375.2,226.3 375.3,223.4 375.4,222.9 375.5,225.8 375.7,226.1 375.8,224.1 375.9,225.3 376.0,227.3 376.2,223.5 376.3,224.3 376.4,225.0 376.5,222.0 376.7,224.3 376.8,225.4 376.9,224.4 377.0,225.7 377.2,225.4 377.3,224.0 377.4,225.1 377.5,225.0 377.7,222.5 377.8,223.5 377.9,223.5 378.0,223.8 378.1,223.9 378.3,222.7 378.4,224.5 378.5,222.3 378.6,225.6 378.8,224.8 378.9,226.1 379.0,224.9 379.1,223.9 379.3,222.8 379.4,225.3 379.5,224.5 379.6,224.9 379.8,225.4 379.9,225.9 380.0,224.4 380.1,226.5 380.3,224.3 380.4,224.5 380.5,225.3 380.6,225.7 380.8,226.1 380.9,222.3 381.0,226.1 381.1,222.6 381.2,223.8 381.4,224.9 381.5,225.9 381.6,223.2 381.7,222.4 381.9,225.6 382.0,224.8 382.1,223.2 382.2,224.1 382.4,222.1 382.5,225.2 382.6,223.8 382.7,226.0 382.9,222.0 383.0,225.3 383.1,227.1 383.2,224.6 383.4,224.6 383.5,222.2 383.6,224.9 383.7,224.5 383.8,223.8 384.0,222.6 384.1,224.6 384.2,223.2 384.3,223.9 384.5,224.8 384.6,224.4 384.7,224.4 384.8,225.6 385.0,223.0 385.1,226.1 385.2,223.1 385.3,223.3 385.5,224.6 385.6,225.4 385.7,224.7 385.8,223.9 386.0,223.6 386.1,224.1 386.2,223.3 386.3,225.1 386.4,224.2 386.6,226.3 386.7,223.6 386.8,224.3 386.9,225.0 387.1,223.1 387.2,223.7 387.3,227.8 387.4,224.4 387.6,226.2 387.7,223.2 387.8,221.5 387.9,225.1 388.1,224.4 388.2,224.8 388.3,224.1 388.4,223.7 388.6,223.0 388.7,225.7 388.8,222.6 388.9,225.6 389.1,224.1 389.2,223.1 389.3,223.6 389.4,225.6 389.5,225.3 389.7,225.0 389.8,224.5 389.9,223.1 390.0,226.0 390.2,223.9 390.3,223.8 390.4,223.8 390.5,223.9 390.7,222.7 390.8,223.9 390.9,223.5 391.0,223.8 391.2,222.4 391.3,226.7 391.4,223.0 391.5,224.8 391.7,224.8 391.8,225.6 391.9,226.7 392.0,224.9 392.1,225.3 392.3,223.9 392.4,226.2 392.5,222.8 392.6,224.2 392.8,224.8 392.9,225.3 393.0,225.4 393.1,225.8 393.3,225.1 393.4,224.5 393.5,224.7 393.6,226.2 393.8,224.8 393.9,225.5 394.0,224.3 394.1,222.3 394.3,223.7 394.4,224.9 394.5,226.4 394.6,226.2 394.8,226.5 394.9,223.6 395.0,225.4 395.1,224.4 395.2,225.2 395.4,224.4 395.5,222.8 395.6,225.3 395.7,224.9 395.9,225.4 396.0,223.4 396.1,225.7 396.2,225.8 396.4,226.1 396.5,226.2 396.6,223.9 396.7,221.4 396.9,225.7 397.0,223.3 397.1,224.2 397.2,225.8 397.4,224.8 397.5,224.8 397.6,225.3 397.7,222.2 397.8,226.7 398.0,224.0 398.1,224.1 398.2,225.2 398.3,224.3 398.5,223.4 398.6,224.3 398.7,224.0 398.8,223.7 399.0,226.9 399.1,222.7 399.2,221.8 399.3,223.3 399.5,223.3 399.6,226.2 399.7,224.6 399.8,225.4 400.0,225.2 400.1,223.3 400.2,225.4 400.3,224.6 400.5,226.7 400.6,224.7 400.7,224.4 400.8,225.3 400.9,225.3 401.1,222.2 401.2,225.9 401.3,225.7 401.4,225.4 401.6,223.1 401.7,222.0 401.8,224.1 401.9,225.3 402.1,225.0 402.2,223.2 402.3,225.6 402.4,222.8 402.6,222.8 402.7,224.4 402.8,223.7 402.9,223.6 403.1,222.6 403.2,225.7 403.3,223.1" fill="none" stroke="#000" stroke-width="0.85" stroke-linejoin="round"/>
<g transform="rotate(0.02 240 140)"><text x="104.5" y="228.7" class="tl" textLength="5.1" lengthAdjust="spacingAndGlyphs">0</text><text x="94.3" y="192.7" class="tl" textLength="15.3" lengthAdjust="spacingAndGlyphs">100</text><text x="94.3" y="156.8" class="tl" textLength="15.3" lengthAdjust="spacingAndGlyphs">200</text><text x="94.3" y="120.8" class="tl" textLength="15.3" lengthAdjust="spacingAndGlyphs">300</text><text x="94.3" y="84.8" class="tl" textLength="15.3" lengthAdjust="spacingAndGlyphs">400</text><text x="94.3" y="48.8" class="tl" textLength="15.3" lengthAdjust="spacingAndGlyphs">500</text><text x="94.3" y="12.9" class="tl" textLength="15.3" lengthAdjust="spacingAndGlyphs">600</text><text x="111.8" y="255.8" class="tl" textLength="5.1" lengthAdjust="spacingAndGlyphs">0</text><text x="150.4" y="255.8" class="tl" textLength="10.3" lengthAdjust="spacingAndGlyphs">10</text><text x="191.8" y="255.8" class="tl" textLength="10.3" lengthAdjust="spacingAndGlyphs">20</text><text x="233.0" y="255.8" class="tl" textLength="10.3" lengthAdjust="spacingAndGlyphs">30</text><text x="274.4" y="255.8" class="tl" textLength="10.3" lengthAdjust="spacingAndGlyphs">40</text><text x="315.7" y="255.8" class="tl" textLength="10.3" lengthAdjust="spacingAndGlyphs">50</text><text x="357.0" y="255.8" class="tl" textLength="10.3" lengthAdjust="spacingAndGlyphs">60</text><text x="398.2" y="255.8" class="tl" textLength="10.3" lengthAdjust="spacingAndGlyphs">70</text><text transform="translate(85.3,135) rotate(-90)" text-anchor="middle" class="al" textLength="46.5" lengthAdjust="spacingAndGlyphs">Intensity</text><text x="236.2" y="276.4" class="al2" textLength="44.2" lengthAdjust="spacingAndGlyphs">2 theta°</text><text x="341.8" y="31.7" class="gc" textLength="49.3" lengthAdjust="spacingAndGlyphs">GCSN1</text><text transform="translate(173.3,153.5) rotate(90)" class="pk" textLength="30.4" lengthAdjust="spacingAndGlyphs">(1 1 1)</text><text transform="translate(190.1,160.8) rotate(90)" class="pk" textLength="28.0" lengthAdjust="spacingAndGlyphs">(1 1 2)</text><text transform="translate(197.0,176.4) rotate(90)" class="pk" textLength="27.1" lengthAdjust="spacingAndGlyphs">(1 3 0)</text><text transform="translate(210.2,109.5) rotate(90)" class="pk" textLength="30.0" lengthAdjust="spacingAndGlyphs">(-1 3 2)</text><text transform="translate(216.6,176.3) rotate(90)" class="pk" textLength="31.1" lengthAdjust="spacingAndGlyphs">(-2 0 2)</text><text transform="translate(227.5,162.7) rotate(90)" class="pk" textLength="33.8" lengthAdjust="spacingAndGlyphs">(-2 3 1)</text><text transform="translate(229.7,126.1) rotate(90)" class="pk" textLength="33.5" lengthAdjust="spacingAndGlyphs">(-1 1 4)</text><text transform="translate(234.2,24.5) rotate(90)" class="pk" textLength="30.4" lengthAdjust="spacingAndGlyphs">(-2 1 3)</text><text transform="translate(256.5,163.7) rotate(90)" class="pk" textLength="29.4" lengthAdjust="spacingAndGlyphs">(3 0 1)</text><text transform="translate(265.3,163.7) rotate(90)" class="pk" textLength="35.2" lengthAdjust="spacingAndGlyphs">(-2 5 1)</text><text transform="translate(289.9,187.1) rotate(90)" class="pk" textLength="26.8" lengthAdjust="spacingAndGlyphs">(2 5 3)</text></g>
<g clip-path="url(#cb)">
<rect x="5" y="297.9" width="469.8" height="222.7" fill="#a9c8ee"/><rect x="66.7" y="301.2" width="402.6" height="190.0" fill="#fff"/><path d="M85.6 411.6h0M85.8 411.8h0M86.0 411.4h0M86.2 411.5h0M86.4 411.9h0M86.6 412.2h0M86.8 411.9h0M87.0 410.7h0M87.2 410.5h0M87.4 411.1h0M87.6 410.9h0M87.8 411.7h0M88.0 411.5h0M88.2 411.3h0M88.4 411.9h0M88.6 411.9h0M88.8 411.4h0M89.0 411.6h0M89.2 411.9h0M89.4 411.2h0M89.6 411.5h0M89.8 410.9h0M90.1 411.4h0M90.3 411.6h0M90.5 411.4h0M90.7 411.5h0M90.9 411.7h0M91.1 411.6h0M91.3 411.1h0M91.5 411.1h0M91.7 410.8h0M91.9 412.2h0M92.1 411.6h0M92.3 411.6h0M92.5 411.3h0M92.7 411.6h0M92.9 411.7h0M93.1 411.0h0M93.3 411.3h0M93.5 412.0h0M93.7 410.8h0M93.9 410.9h0M94.1 411.7h0M94.3 411.0h0M94.5 411.8h0M94.7 410.9h0M94.9 411.5h0M95.1 411.8h0M95.3 411.6h0M95.5 411.8h0M95.7 411.3h0M95.9 411.3h0M96.1 411.4h0M96.3 411.7h0M96.5 413.1h0M96.7 411.4h0M96.9 412.3h0M97.1 411.3h0M97.3 410.9h0M97.5 411.3h0M97.7 411.6h0M97.9 411.5h0M98.1 411.5h0M98.3 411.7h0M98.5 411.7h0M98.7 411.8h0M98.9 410.8h0M99.1 411.4h0M99.3 411.0h0M99.5 411.5h0M99.7 411.4h0M99.9 411.5h0M100.1 411.2h0M100.3 411.0h0M100.5 411.3h0M100.7 411.7h0M100.9 411.8h0M101.1 410.6h0M101.3 411.5h0M101.5 411.5h0M101.7 410.7h0M101.9 410.9h0M102.1 411.2h0M102.3 411.6h0M102.5 410.3h0M102.7 411.2h0M102.9 411.1h0M103.1 411.5h0M103.3 412.1h0M103.5 412.0h0M103.7 411.2h0M103.9 411.2h0M104.1 411.5h0M104.3 411.9h0M104.5 412.1h0M104.7 411.5h0M104.9 412.1h0M105.1 411.0h0M105.3 410.8h0M105.6 410.0h0M105.8 411.0h0M106.0 411.7h0M106.2 411.8h0M106.4 413.0h0M106.6 411.7h0M106.8 411.5h0M107.0 410.9h0M107.2 411.1h0M107.4 411.1h0M107.6 411.3h0M107.8 411.1h0M108.0 410.7h0M108.2 411.9h0M108.4 411.6h0M108.6 412.0h0M108.8 410.6h0M109.0 410.7h0M109.2 411.0h0M109.4 411.9h0M109.6 411.2h0M109.8 411.4h0M110.0 411.3h0M110.2 411.4h0M110.4 411.1h0M110.6 411.5h0M110.8 410.9h0M111.0 411.2h0M111.2 411.4h0M111.4 411.3h0M111.6 411.4h0M111.8 410.8h0M112.0 411.3h0M112.2 411.0h0M112.4 411.3h0M112.6 411.8h0M112.8 410.6h0M113.0 411.5h0M113.2 410.6h0M113.4 410.6h0M113.6 411.5h0M113.8 411.0h0M114.0 410.5h0M114.2 410.3h0M114.4 409.8h0M114.6 407.8h0M114.8 406.5h0M115.0 403.8h0M115.2 401.0h0M115.4 397.4h0M115.6 395.7h0M115.8 395.3h0M116.0 397.3h0M116.2 400.8h0M116.4 404.2h0M116.6 406.9h0M116.8 408.1h0M117.0 409.1h0M117.2 410.0h0M117.4 410.7h0M117.6 410.3h0M117.8 409.5h0M118.0 410.9h0M118.2 410.7h0M118.4 410.8h0M118.6 412.2h0M118.8 411.0h0M119.0 411.4h0M119.2 410.5h0M119.4 411.3h0M119.6 411.6h0M119.8 411.3h0M120.0 411.1h0M120.2 411.5h0M120.4 411.3h0M120.6 411.9h0M120.8 411.4h0M121.1 410.9h0M121.3 410.4h0M121.5 411.0h0M121.7 411.2h0M121.9 410.8h0M122.1 410.8h0M122.3 410.5h0M122.5 410.8h0M122.7 411.4h0M122.9 411.2h0M123.1 411.3h0M123.3 411.2h0M123.5 411.3h0M123.7 411.7h0M123.9 412.3h0M124.1 411.7h0M124.3 412.3h0M124.5 411.3h0M124.7 411.4h0M124.9 412.2h0M125.1 411.0h0M125.3 411.0h0M125.5 411.3h0M125.7 410.6h0M125.9 410.5h0M126.1 411.9h0M126.3 410.9h0M126.5 411.2h0M126.7 411.2h0M126.9 410.9h0M127.1 411.7h0M127.3 411.7h0M127.5 411.8h0M127.7 411.7h0M127.9 411.4h0M128.1 412.1h0M128.3 411.9h0M128.5 411.1h0M128.7 411.4h0M128.9 411.2h0M129.1 412.3h0M129.3 411.7h0M129.5 411.6h0M129.7 411.4h0M129.9 411.6h0M130.1 410.9h0M130.3 411.4h0M130.5 411.4h0M130.7 411.4h0M130.9 411.0h0M131.1 411.6h0M131.3 410.8h0M131.5 411.1h0M131.7 411.3h0M131.9 411.3h0M132.1 411.1h0M132.3 410.9h0M132.5 410.9h0M132.7 411.2h0M132.9 410.9h0M133.1 411.3h0M133.3 410.8h0M133.5 411.4h0M133.7 412.3h0M133.9 410.7h0M134.1 411.3h0M134.3 411.9h0M134.5 411.4h0M134.7 411.7h0M134.9 410.3h0M135.1 411.1h0M135.3 412.1h0M135.5 411.0h0M135.7 411.5h0M135.9 410.4h0M136.1 411.8h0M136.3 412.3h0M136.6 411.2h0M136.8 411.4h0M137.0 411.4h0M137.2 412.2h0M137.4 411.0h0M137.6 410.4h0M137.8 412.0h0M138.0 410.5h0M138.2 411.2h0M138.4 409.7h0M138.6 410.5h0M138.8 410.6h0M139.0 409.7h0M139.2 409.6h0M139.4 409.7h0M139.6 408.6h0M139.8 408.8h0M140.0 409.0h0M140.2 407.0h0M140.4 408.1h0M140.6 408.4h0M140.8 408.3h0M141.0 409.7h0M141.2 410.0h0M141.4 410.1h0M141.6 410.4h0M141.8 410.4h0M142.0 410.1h0M142.2 411.1h0M142.4 410.7h0M142.6 410.7h0M142.8 411.6h0M143.0 411.0h0M143.2 411.6h0M143.4 410.7h0M143.6 411.0h0M143.8 411.2h0M144.0 411.8h0M144.2 411.2h0M144.4 411.6h0M144.6 410.9h0M144.8 411.3h0M145.0 411.6h0M145.2 410.8h0M145.4 410.9h0M145.6 411.5h0M145.8 410.7h0M146.0 411.4h0M146.2 411.4h0M146.4 411.2h0M146.6 411.6h0M146.8 411.4h0M147.0 411.3h0M147.2 410.5h0M147.4 410.5h0M147.6 411.3h0M147.8 410.5h0M148.0 411.2h0M148.2 411.0h0M148.4 410.8h0M148.6 411.1h0M148.8 410.0h0M149.0 411.1h0M149.2 411.7h0M149.4 410.5h0M149.6 411.3h0M149.8 411.3h0M150.0 412.5h0M150.2 410.6h0M150.4 410.7h0M150.6 410.7h0M150.8 410.6h0M151.0 410.2h0M151.2 411.0h0M151.4 410.6h0M151.6 411.3h0M151.8 411.1h0M152.1 410.4h0M152.3 410.7h0M152.5 411.5h0M152.7 410.6h0M152.9 410.8h0M153.1 411.1h0M153.3 410.4h0M153.5 410.7h0M153.7 411.2h0M153.9 410.9h0M154.1 409.3h0M154.3 410.7h0M154.5 409.7h0M154.7 409.2h0M154.9 408.7h0M155.1 409.1h0M155.3 408.0h0M155.5 406.9h0M155.7 405.6h0M155.9 405.1h0M156.1 403.9h0M156.3 401.4h0M156.5 399.8h0M156.7 398.5h0M156.9 397.5h0M157.1 395.9h0M157.3 395.5h0M157.5 395.1h0M157.7 396.7h0M157.9 397.1h0M158.1 398.6h0M158.3 400.6h0M158.5 401.5h0M158.7 403.1h0M158.9 404.6h0M159.1 405.2h0M159.3 406.9h0M159.5 406.7h0M159.7 406.6h0M159.9 406.4h0M160.1 405.4h0M160.3 405.5h0M160.5 404.6h0M160.7 403.1h0M160.9 403.1h0M161.1 403.3h0M161.3 405.3h0M161.5 407.4h0M161.7 407.7h0M161.9 409.4h0M162.1 410.3h0M162.3 408.7h0M162.5 410.0h0M162.7 410.0h0M162.9 410.1h0M163.1 409.6h0M163.3 410.4h0M163.5 410.0h0M163.7 411.1h0M163.9 411.3h0M164.1 410.0h0M164.3 409.9h0M164.5 410.4h0M164.7 410.5h0M164.9 410.5h0M165.1 410.9h0M165.3 409.8h0M165.5 410.2h0M165.7 410.1h0M165.9 410.1h0M166.1 409.6h0M166.3 409.6h0M166.5 409.2h0M166.7 409.7h0M166.9 408.4h0M167.1 407.0h0M167.3 407.5h0M167.6 406.3h0M167.8 404.7h0M168.0 403.5h0M168.2 402.5h0M168.4 402.4h0M168.6 400.6h0M168.8 400.9h0M169.0 400.7h0M169.2 400.5h0M169.4 401.8h0M169.6 402.4h0M169.8 402.5h0M170.0 404.9h0M170.2 406.0h0M170.4 407.7h0M170.6 408.4h0M170.8 409.3h0M171.0 409.6h0M171.2 410.2h0M171.4 410.3h0M171.6 410.3h0M171.8 410.9h0M172.0 411.2h0M172.2 411.3h0M172.4 410.5h0M172.6 410.8h0M172.8 410.4h0M173.0 410.4h0M173.2 411.1h0M173.4 410.7h0M173.6 411.7h0M173.8 410.0h0M174.0 410.5h0M174.2 411.2h0M174.4 411.6h0M174.6 410.9h0M174.8 412.0h0M175.0 411.5h0M175.2 410.8h0M175.4 411.1h0M175.6 411.4h0M175.8 410.7h0M176.0 411.7h0M176.2 411.1h0M176.4 411.4h0M176.6 411.6h0M176.8 411.0h0M177.0 411.7h0M177.2 410.3h0M177.4 411.5h0M177.6 410.3h0M177.8 411.8h0M178.0 411.0h0M178.2 411.8h0M178.4 411.9h0M178.6 411.2h0M178.8 410.9h0M179.0 411.9h0M179.2 410.7h0M179.4 411.6h0M179.6 411.2h0M179.8 411.1h0M180.0 411.0h0M180.2 412.1h0M180.4 410.5h0M180.6 411.0h0M180.8 411.5h0M181.0 411.8h0M181.2 412.1h0M181.4 411.9h0M181.6 411.0h0M181.8 411.4h0M182.0 411.8h0M182.2 411.5h0M182.4 410.5h0M182.6 411.4h0M182.9 411.5h0M183.1 410.5h0M183.3 410.9h0M183.5 411.0h0M183.7 411.3h0M183.9 411.6h0M184.1 411.3h0M184.3 410.8h0M184.5 410.4h0M184.7 409.8h0M184.9 409.4h0M185.1 409.3h0M185.3 409.0h0M185.5 409.5h0M185.7 410.0h0M185.9 409.4h0M186.1 409.9h0M186.3 410.0h0M186.5 410.2h0M186.7 410.9h0M186.9 411.1h0M187.1 410.8h0M187.3 410.8h0M187.5 411.3h0M187.7 410.8h0M187.9 411.2h0M188.1 411.7h0M188.3 411.2h0M188.5 410.3h0M188.7 411.6h0M188.9 410.7h0M189.1 410.6h0M189.3 410.6h0M189.5 411.7h0M189.7 410.3h0M189.9 411.2h0M190.1 411.4h0M190.3 411.4h0M190.5 411.0h0M190.7 411.3h0M190.9 411.4h0M191.1 410.7h0M191.3 411.7h0M191.5 411.8h0M191.7 410.9h0M191.9 411.0h0M192.1 410.8h0M192.3 411.8h0M192.5 410.8h0M192.7 411.1h0M192.9 410.5h0M193.1 411.9h0M193.3 411.2h0M193.5 411.4h0M193.7 412.1h0M193.9 411.6h0M194.1 410.8h0M194.3 411.5h0M194.5 411.6h0M194.7 410.9h0M194.9 410.8h0M195.1 410.8h0M195.3 411.7h0M195.5 411.3h0M195.7 410.8h0M195.9 411.6h0M196.1 411.6h0M196.3 410.9h0M196.5 410.5h0M196.7 411.8h0M196.9 412.5h0M197.1 412.0h0M197.3 411.8h0M197.5 411.3h0M197.7 411.0h0M197.9 411.3h0M198.1 411.6h0M198.4 411.2h0M198.6 411.7h0M198.8 411.3h0M199.0 411.5h0M199.2 409.9h0M199.4 410.8h0M199.6 411.6h0M199.8 411.7h0M200.0 411.4h0M200.2 411.9h0M200.4 411.5h0M200.6 411.5h0M200.8 410.7h0M201.0 411.3h0M201.2 411.5h0M201.4 411.7h0M201.6 411.6h0M201.8 411.1h0M202.0 411.1h0M202.2 410.4h0M202.4 411.2h0M202.6 410.4h0M202.8 410.7h0M203.0 410.8h0M203.2 411.7h0M203.4 411.3h0M203.6 410.3h0M203.8 409.9h0M204.0 410.4h0M204.2 410.0h0M204.4 410.4h0M204.6 410.3h0M204.8 410.2h0M205.0 409.2h0M205.2 409.2h0M205.4 409.0h0M205.6 408.4h0M205.8 407.0h0M206.0 405.5h0M206.2 403.7h0M206.4 399.2h0M206.6 395.4h0M206.8 390.0h0M207.0 383.2h0M207.2 377.8h0M207.4 374.8h0M207.6 374.5h0M207.8 378.8h0M208.0 384.2h0M208.2 391.0h0M208.4 394.9h0M208.6 400.9h0M208.8 403.0h0M209.0 406.0h0M209.2 407.7h0M209.4 408.3h0M209.6 408.7h0M209.8 409.0h0M210.0 408.8h0M210.2 409.7h0M210.4 409.6h0M210.6 410.5h0M210.8 410.0h0M211.0 410.4h0M211.2 410.8h0M211.4 410.7h0M211.6 410.7h0M211.8 410.7h0M212.0 410.6h0M212.2 411.1h0M212.4 411.2h0M212.6 410.6h0M212.8 411.7h0M213.0 411.3h0M213.2 410.3h0M213.4 412.3h0M213.6 411.4h0M213.9 410.7h0M214.1 411.8h0M214.3 409.8h0M214.5 412.3h0M214.7 410.4h0M214.9 410.4h0M215.1 410.7h0M215.3 411.2h0M215.5 410.9h0M215.7 411.5h0M215.9 410.7h0M216.1 411.6h0M216.3 411.2h0M216.5 410.6h0M216.7 411.6h0M216.9 411.3h0M217.1 411.0h0M217.3 411.7h0M217.5 410.5h0M217.7 410.9h0M217.9 411.7h0M218.1 411.0h0M218.3 411.3h0M218.5 411.2h0M218.7 410.8h0M218.9 411.1h0M219.1 410.1h0M219.3 410.7h0M219.5 409.6h0M219.7 409.7h0M219.9 408.8h0M220.1 408.8h0M220.3 408.0h0M220.5 407.5h0M220.7 405.9h0M220.9 405.0h0M221.1 404.1h0M221.3 404.5h0M221.5 405.4h0M221.7 406.3h0M221.9 406.8h0M222.1 407.8h0M222.3 407.8h0M222.5 408.7h0M222.7 410.1h0M222.9 410.4h0M223.1 409.7h0M223.3 410.5h0M223.5 410.9h0M223.7 410.3h0M223.9 411.1h0M224.1 411.1h0M224.3 411.3h0M224.5 412.0h0M224.7 410.7h0M224.9 411.7h0M225.1 411.4h0M225.3 411.5h0M225.5 410.8h0M225.7 411.2h0M225.9 411.2h0M226.1 412.0h0M226.3 411.3h0M226.5 411.9h0M226.7 411.1h0M226.9 411.1h0M227.1 411.3h0M227.3 410.3h0M227.5 411.0h0M227.7 411.0h0M227.9 411.2h0M228.1 411.4h0M228.3 410.8h0M228.5 410.8h0M228.7 411.9h0M228.9 410.8h0M229.1 411.0h0M229.4 410.8h0M229.6 411.1h0M229.8 411.9h0M230.0 411.8h0M230.2 410.4h0M230.4 411.2h0M230.6 412.0h0M230.8 411.1h0M231.0 411.4h0M231.2 412.1h0M231.4 412.4h0M231.6 412.0h0M231.8 411.1h0M232.0 411.3h0M232.2 411.4h0M232.4 411.1h0M232.6 410.9h0M232.8 412.2h0M233.0 411.3h0M233.2 411.5h0M233.4 411.6h0M233.6 411.2h0M233.8 410.9h0M234.0 410.8h0M234.2 411.2h0M234.4 410.6h0M234.6 409.2h0M234.8 410.4h0M235.0 410.6h0M235.2 409.6h0M235.4 409.5h0M235.6 409.7h0M235.8 410.7h0M236.0 409.9h0M236.2 410.9h0M236.4 411.2h0M236.6 411.1h0M236.8 411.0h0M237.0 410.7h0M237.2 410.8h0M237.4 411.2h0M237.6 410.7h0M237.8 411.2h0M238.0 410.8h0M238.2 411.9h0M238.4 412.0h0M238.6 410.9h0M238.8 411.9h0M239.0 411.4h0M239.2 411.3h0M239.4 411.5h0M239.6 411.5h0M239.8 410.6h0M240.0 412.5h0M240.2 410.8h0M240.4 410.2h0M240.6 411.2h0M240.8 411.3h0M241.0 410.9h0M241.2 410.4h0M241.4 411.8h0M241.6 411.2h0M241.8 411.3h0M242.0 411.0h0M242.2 411.2h0M242.4 410.9h0M242.6 411.4h0M242.8 411.2h0M243.0 411.5h0M243.2 411.5h0M243.4 411.3h0M243.6 411.3h0M243.8 411.7h0M244.0 410.4h0M244.2 411.2h0M244.4 411.8h0M244.6 410.6h0M244.9 411.5h0M245.1 410.9h0M245.3 411.1h0M245.5 411.0h0M245.7 411.0h0M245.9 411.3h0M246.1 411.0h0M246.3 410.0h0M246.5 412.0h0M246.7 410.9h0M246.9 410.6h0M247.1 411.3h0M247.3 411.3h0M247.5 409.5h0M247.7 410.4h0M247.9 408.7h0M248.1 408.7h0M248.3 407.8h0M248.5 406.2h0M248.7 404.8h0M248.9 404.0h0M249.1 404.8h0M249.3 406.2h0M249.5 407.5h0M249.7 407.9h0M249.9 408.9h0M250.1 410.1h0M250.3 410.0h0M250.5 409.5h0M250.7 409.8h0M250.9 409.3h0M251.1 409.1h0M251.3 408.1h0M251.5 406.8h0M251.7 405.4h0M251.9 404.4h0M252.1 401.7h0M252.3 401.0h0M252.5 397.8h0M252.7 397.7h0M252.9 397.5h0M253.1 398.4h0M253.3 400.6h0M253.5 401.0h0M253.7 402.5h0M253.9 403.3h0M254.1 406.3h0M254.3 406.0h0M254.5 407.9h0M254.7 408.1h0M254.9 410.1h0M255.1 409.2h0M255.3 409.6h0M255.5 409.2h0M255.7 409.5h0M255.9 410.0h0M256.1 408.9h0M256.3 408.7h0M256.5 408.3h0M256.7 407.4h0M256.9 406.3h0M257.1 405.6h0M257.3 404.7h0M257.5 403.1h0M257.7 400.6h0M257.9 400.3h0M258.1 401.0h0M258.3 402.4h0M258.5 403.5h0M258.7 404.9h0M258.9 406.1h0M259.1 406.9h0M259.3 405.7h0M259.5 406.3h0M259.7 405.6h0M259.9 404.0h0M260.1 400.9h0M260.4 396.5h0M260.6 392.3h0M260.8 389.2h0M261.0 387.6h0M261.2 389.2h0M261.4 393.0h0M261.6 395.8h0M261.8 399.8h0M262.0 401.6h0M262.2 405.0h0M262.4 405.7h0M262.6 405.7h0M262.8 406.2h0M263.0 406.2h0M263.2 405.1h0M263.4 403.0h0M263.6 400.3h0M263.8 396.9h0M264.0 391.5h0M264.2 385.4h0M264.4 379.0h0M264.6 372.9h0M264.8 368.7h0M265.0 367.6h0M265.2 370.0h0M265.4 374.5h0M265.6 377.6h0M265.8 378.8h0M266.0 376.6h0M266.2 369.9h0M266.4 359.5h0M266.6 349.3h0M266.8 341.9h0M267.0 343.4h0M267.2 351.4h0M267.4 363.5h0M267.6 376.0h0M267.8 387.1h0M268.0 394.6h0M268.2 399.6h0M268.4 403.5h0M268.6 404.8h0M268.8 405.8h0M269.0 407.4h0M269.2 406.9h0M269.4 408.4h0M269.6 408.8h0M269.8 409.1h0M270.0 409.6h0M270.2 409.2h0M270.4 409.6h0M270.6 409.0h0M270.8 409.6h0M271.0 409.8h0M271.2 410.3h0M271.4 410.9h0M271.6 410.4h0M271.8 410.8h0M272.0 410.0h0M272.2 410.6h0M272.4 409.8h0M272.6 410.3h0M272.8 410.3h0M273.0 410.6h0M273.2 410.7h0M273.4 410.5h0M273.6 410.4h0M273.8 411.2h0M274.0 410.7h0M274.2 409.7h0M274.4 411.0h0M274.6 411.1h0M274.8 411.3h0M275.0 411.7h0M275.2 410.5h0M275.4 411.0h0M275.6 410.9h0M275.9 410.2h0M276.1 409.9h0M276.3 411.5h0M276.5 410.6h0M276.7 410.8h0M276.9 410.9h0M277.1 410.9h0M277.3 411.2h0M277.5 410.4h0M277.7 410.9h0M277.9 411.0h0M278.1 410.6h0M278.3 410.8h0M278.5 411.0h0M278.7 411.0h0M278.9 410.4h0M279.1 411.0h0M279.3 411.3h0M279.5 411.6h0M279.7 411.4h0M279.9 411.7h0M280.1 411.2h0M280.3 411.1h0M280.5 412.2h0M280.7 411.2h0M280.9 410.9h0M281.1 411.2h0M281.3 411.7h0M281.5 410.7h0M281.7 411.6h0M281.9 411.9h0M282.1 411.8h0M282.3 411.3h0M282.5 410.8h0M282.7 410.7h0M282.9 411.2h0M283.1 411.9h0M283.3 411.6h0M283.5 411.7h0M283.7 411.4h0M283.9 412.1h0M284.1 411.3h0M284.3 411.0h0M284.5 411.4h0M284.7 411.1h0M284.9 411.8h0M285.1 412.0h0M285.3 411.6h0M285.5 410.8h0M285.7 410.8h0M285.9 411.5h0M286.1 410.8h0M286.3 411.5h0M286.5 410.6h0M286.7 411.1h0M286.9 411.5h0M287.1 411.0h0M287.3 411.7h0M287.5 411.8h0M287.7 412.0h0M287.9 411.2h0M288.1 411.4h0M288.3 411.4h0M288.5 411.5h0M288.7 410.7h0M288.9 411.5h0M289.1 411.7h0M289.3 410.8h0M289.5 410.7h0M289.7 411.2h0M289.9 412.2h0M290.1 411.6h0M290.3 411.1h0M290.5 411.3h0M290.7 410.6h0M290.9 412.0h0M291.1 411.0h0M291.4 411.7h0M291.6 410.7h0M291.8 411.4h0M292.0 410.9h0M292.2 411.7h0M292.4 412.0h0M292.6 411.9h0M292.8 411.6h0M293.0 411.8h0M293.2 410.8h0M293.4 410.7h0M293.6 411.2h0M293.8 411.9h0M294.0 411.4h0M294.2 411.7h0M294.4 410.7h0M294.6 411.2h0M294.8 411.1h0M295.0 411.6h0M295.2 412.3h0M295.4 411.7h0M295.6 411.9h0M295.8 411.2h0M296.0 411.3h0M296.2 411.7h0M296.4 411.6h0M296.6 410.6h0M296.8 411.8h0M297.0 411.8h0M297.2 411.5h0M297.4 411.7h0M297.6 411.6h0M297.8 411.1h0M298.0 410.6h0M298.2 412.2h0M298.4 411.4h0M298.6 411.4h0M298.8 411.4h0M299.0 411.5h0M299.2 411.5h0M299.4 410.9h0M299.6 411.6h0M299.8 411.4h0M300.0 411.4h0M300.2 411.3h0M300.4 411.5h0M300.6 410.9h0M300.8 411.4h0M301.0 411.3h0M301.2 411.4h0M301.4 411.8h0M301.6 411.8h0M301.8 411.9h0M302.0 411.3h0M302.2 411.7h0M302.4 411.9h0M302.6 411.3h0M302.8 411.1h0M303.0 412.2h0M303.2 410.6h0M303.4 411.4h0M303.6 411.4h0M303.8 410.9h0M304.0 411.3h0M304.2 411.7h0M304.4 410.3h0M304.6 411.9h0M304.8 411.4h0M305.0 411.0h0M305.2 411.9h0M305.4 411.4h0M305.6 411.2h0M305.8 410.2h0M306.0 411.8h0M306.2 411.4h0M306.4 411.1h0M306.6 411.3h0M306.9 411.9h0M307.1 411.2h0M307.3 411.3h0M307.5 411.1h0M307.7 410.8h0M307.9 410.9h0M308.1 411.2h0M308.3 411.2h0M308.5 411.9h0M308.7 411.4h0M308.9 411.2h0M309.1 411.5h0M309.3 411.3h0M309.5 411.7h0M309.7 410.6h0M309.9 410.3h0M310.1 411.5h0M310.3 411.2h0M310.5 411.5h0M310.7 410.7h0M310.9 411.1h0M311.1 411.3h0M311.3 411.4h0M311.5 411.3h0M311.7 411.8h0M311.9 411.0h0M312.1 411.7h0M312.3 411.1h0M312.5 411.3h0M312.7 410.8h0M312.9 411.3h0M313.1 410.8h0M313.3 411.7h0M313.5 411.0h0M313.7 411.4h0M313.9 411.2h0M314.1 411.3h0M314.3 410.8h0M314.5 412.2h0M314.7 411.1h0M314.9 412.0h0M315.1 410.7h0M315.3 412.2h0M315.5 411.7h0M315.7 412.0h0M315.9 410.5h0M316.1 411.8h0M316.3 411.2h0M316.5 411.5h0M316.7 412.0h0M316.9 411.3h0M317.1 410.9h0M317.3 411.2h0M317.5 410.7h0M317.7 411.3h0M317.9 411.1h0M318.1 411.3h0M318.3 410.9h0M318.5 410.1h0M318.7 410.8h0M318.9 410.8h0M319.1 411.2h0M319.3 411.2h0M319.5 410.1h0M319.7 411.2h0M319.9 411.0h0M320.1 410.5h0M320.3 410.4h0M320.5 409.0h0M320.7 410.7h0M320.9 408.9h0M321.1 408.0h0M321.3 408.1h0M321.5 406.8h0M321.7 405.1h0M321.9 403.3h0M322.1 403.2h0M322.4 402.4h0M322.6 400.4h0M322.8 399.8h0M323.0 401.0h0M323.2 402.7h0M323.4 402.1h0M323.6 404.1h0M323.8 404.8h0M324.0 406.5h0M324.2 407.6h0M324.4 408.5h0M324.6 408.2h0M324.8 408.8h0M325.0 410.8h0M325.2 410.5h0M325.4 409.4h0M325.6 410.6h0M325.8 411.1h0M326.0 410.6h0M326.2 410.7h0M326.4 410.7h0M326.6 410.9h0M326.8 410.8h0M327.0 410.9h0M327.2 410.5h0M327.4 411.0h0M327.6 410.8h0M327.8 410.6h0M328.0 409.9h0M328.2 410.3h0M328.4 410.4h0M328.6 409.9h0M328.8 409.7h0M329.0 409.1h0M329.2 409.0h0M329.4 407.9h0M329.6 407.6h0M329.8 407.5h0M330.0 406.9h0M330.2 405.4h0M330.4 404.7h0M330.6 404.2h0M330.8 404.2h0M331.0 404.0h0M331.2 402.9h0M331.4 403.0h0M331.6 403.6h0M331.8 405.3h0M332.0 405.0h0M332.2 406.5h0M332.4 406.7h0M332.6 407.2h0M332.8 408.1h0M333.0 408.0h0M333.2 408.5h0M333.4 407.5h0M333.6 407.2h0M333.8 405.1h0M334.0 404.0h0M334.2 402.1h0M334.4 400.9h0M334.6 400.1h0M334.8 398.9h0M335.0 399.3h0M335.2 399.6h0M335.4 401.1h0M335.6 403.3h0M335.8 404.4h0M336.0 405.8h0M336.2 407.2h0M336.4 407.7h0M336.6 408.0h0M336.8 409.6h0M337.0 410.0h0M337.2 411.2h0M337.4 410.4h0M337.6 410.7h0M337.9 411.6h0M338.1 410.6h0M338.3 410.5h0M338.5 411.2h0M338.7 411.1h0M338.9 411.4h0M339.1 410.6h0M339.3 411.7h0M339.5 411.2h0M339.7 410.1h0M339.9 411.1h0M340.1 410.9h0M340.3 411.2h0M340.5 411.7h0M340.7 411.2h0M340.9 411.0h0M341.1 411.7h0M341.3 411.0h0M341.5 410.6h0M341.7 410.7h0M341.9 412.0h0M342.1 411.7h0M342.3 412.0h0M342.5 410.7h0M342.7 411.0h0M342.9 410.9h0M343.1 411.7h0M343.3 411.8h0M343.5 411.2h0M343.7 411.2h0M343.9 411.7h0M344.1 411.2h0M344.3 411.0h0M344.5 411.2h0M344.7 411.8h0M344.9 412.3h0M345.1 411.4h0M345.3 411.2h0M345.5 411.4h0M345.7 411.5h0M345.9 411.6h0M346.1 410.9h0M346.3 411.3h0M346.5 411.2h0M346.7 411.7h0M346.9 411.5h0M347.1 411.1h0M347.3 411.5h0M347.5 411.6h0M347.7 411.0h0M347.9 410.2h0M348.1 410.5h0M348.3 409.7h0M348.5 410.3h0M348.7 410.3h0M348.9 410.8h0M349.1 410.4h0M349.3 409.6h0M349.5 410.3h0M349.7 410.2h0M349.9 410.4h0M350.1 410.9h0M350.3 411.1h0M350.5 411.0h0M350.7 410.8h0M350.9 411.0h0M351.1 411.0h0M351.3 411.2h0M351.5 411.7h0M351.7 411.4h0M351.9 411.8h0M352.1 410.9h0M352.3 412.3h0M352.5 411.4h0M352.7 410.2h0M352.9 411.5h0M353.1 411.9h0M353.4 411.4h0M353.6 410.7h0M353.8 411.4h0M354.0 411.1h0M354.2 411.3h0M354.4 411.5h0M354.6 409.9h0M354.8 411.3h0M355.0 411.6h0M355.2 411.6h0M355.4 411.2h0M355.6 411.2h0M355.8 411.0h0M356.0 411.3h0M356.2 412.1h0M356.4 411.1h0M356.6 411.5h0M356.8 411.5h0M357.0 412.1h0M357.2 411.7h0M357.4 411.7h0M357.6 411.4h0M357.8 412.1h0M358.0 411.4h0M358.2 411.3h0M358.4 411.9h0M358.6 411.7h0M358.8 411.8h0M359.0 411.0h0M359.2 412.6h0M359.4 411.6h0M359.6 412.2h0M359.8 411.6h0M360.0 411.0h0M360.2 411.7h0M360.4 411.3h0M360.6 411.8h0M360.8 410.5h0M361.0 411.0h0M361.2 410.9h0M361.4 412.0h0M361.6 411.9h0M361.8 410.9h0M362.0 411.5h0M362.2 411.5h0M362.4 411.2h0M362.6 412.0h0M362.8 411.0h0M363.0 411.4h0M363.2 411.2h0M363.4 411.7h0M363.6 411.2h0M363.8 411.7h0M364.0 411.0h0M364.2 410.9h0M364.4 411.0h0M364.6 411.2h0M364.8 411.1h0M365.0 412.7h0M365.2 411.0h0M365.4 411.5h0M365.6 411.4h0M365.8 411.5h0M366.0 412.1h0M366.2 411.7h0M366.4 411.1h0M366.6 410.7h0M366.8 411.7h0M367.0 411.8h0M367.2 410.7h0M367.4 411.8h0M367.6 410.4h0M367.8 411.4h0M368.0 411.8h0M368.2 410.9h0M368.4 410.6h0M368.6 412.1h0M368.9 410.7h0M369.1 411.5h0M369.3 410.7h0M369.5 411.6h0M369.7 412.1h0M369.9 411.2h0M370.1 411.0h0M370.3 410.4h0M370.5 410.6h0M370.7 411.1h0M370.9 411.5h0M371.1 411.6h0M371.3 411.5h0M371.5 411.8h0M371.7 411.5h0M371.9 412.6h0M372.1 411.3h0M372.3 411.4h0M372.5 410.2h0M372.7 411.0h0M372.9 411.6h0M373.1 411.1h0M373.3 411.9h0M373.5 411.6h0M373.7 412.2h0M373.9 410.7h0M374.1 411.1h0M374.3 411.9h0M374.5 411.3h0M374.7 410.9h0M374.9 411.0h0M375.1 411.1h0M375.3 411.6h0M375.5 411.4h0M375.7 411.0h0M375.9 410.5h0M376.1 411.2h0M376.3 411.2h0M376.5 409.9h0M376.7 410.7h0M376.9 409.5h0M377.1 409.8h0M377.3 409.4h0M377.5 409.1h0M377.7 409.7h0M377.9 409.8h0M378.1 410.9h0M378.3 411.0h0M378.5 410.5h0M378.7 410.2h0M378.9 410.4h0M379.1 410.0h0M379.3 411.1h0M379.5 411.1h0M379.7 410.8h0M379.9 411.3h0M380.1 411.3h0M380.3 411.8h0M380.5 410.9h0M380.7 411.9h0M380.9 411.1h0M381.1 412.0h0M381.3 410.8h0M381.5 411.8h0M381.7 411.0h0M381.9 412.1h0M382.1 411.6h0M382.3 410.8h0M382.5 411.8h0M382.7 411.3h0M382.9 411.6h0M383.1 412.5h0M383.3 411.2h0M383.5 411.2h0M383.7 411.9h0M383.9 411.1h0M384.2 411.8h0M384.4 411.8h0M384.6 411.4h0M384.8 411.7h0M385.0 410.3h0M385.2 412.1h0M385.4 411.0h0M385.6 410.9h0M385.8 412.3h0M386.0 412.2h0M386.2 411.1h0M386.4 411.6h0M386.6 411.2h0M386.8 410.8h0M387.0 411.5h0M387.2 411.8h0M387.4 412.6h0M387.6 411.2h0M387.8 411.7h0M388.0 411.1h0M388.2 411.2h0M388.4 411.9h0M388.6 410.4h0M388.8 410.7h0M389.0 410.7h0M389.2 411.6h0M389.4 411.1h0M389.6 410.9h0M389.8 410.6h0M390.0 410.7h0M390.2 409.6h0M390.4 409.3h0M390.6 408.9h0M390.8 409.1h0M391.0 408.3h0M391.2 409.0h0M391.4 410.7h0M391.6 410.1h0M391.8 410.1h0M392.0 410.0h0M392.2 410.8h0M392.4 411.0h0M392.6 411.3h0M392.8 410.8h0M393.0 411.3h0M393.2 411.5h0M393.4 411.6h0M393.6 411.0h0M393.8 411.5h0M394.0 412.0h0M394.2 410.9h0M394.4 411.6h0M394.6 411.1h0M394.8 411.0h0M395.0 410.6h0M395.2 410.7h0M395.4 411.4h0M395.6 411.2h0M395.8 411.7h0M396.0 410.2h0M396.2 410.7h0M396.4 410.1h0M396.6 410.8h0M396.8 411.3h0M397.0 409.3h0M397.2 409.6h0M397.4 409.2h0M397.6 408.7h0M397.8 408.0h0M398.0 407.8h0M398.2 408.7h0M398.4 407.5h0M398.6 408.6h0M398.8 409.0h0M399.0 408.4h0M399.2 409.2h0M399.4 410.2h0M399.7 411.3h0M399.9 410.6h0M400.1 410.6h0M400.3 411.0h0M400.5 411.6h0M400.7 411.5h0M400.9 411.8h0M401.1 411.1h0M401.3 410.9h0M401.5 410.8h0M401.7 411.6h0M401.9 411.2h0M402.1 411.0h0M402.3 411.6h0M402.5 411.4h0M402.7 410.3h0M402.9 411.2h0M403.1 410.9h0M403.3 411.6h0M403.5 411.3h0M403.7 412.2h0M403.9 411.4h0M404.1 410.8h0M404.3 410.4h0M404.5 410.8h0M404.7 411.1h0M404.9 411.4h0M405.1 411.7h0M405.3 411.5h0M405.5 411.1h0M405.7 411.8h0M405.9 411.0h0M406.1 411.9h0M406.3 412.2h0M406.5 411.9h0M406.7 412.2h0M406.9 412.0h0M407.1 410.9h0M407.3 411.5h0M407.5 411.3h0M407.7 410.9h0M407.9 410.8h0M408.1 411.6h0M408.3 410.8h0M408.5 411.2h0M408.7 411.4h0M408.9 411.2h0M409.1 412.1h0M409.3 411.8h0M409.5 411.5h0M409.7 411.1h0M409.9 411.6h0M410.1 411.5h0M410.3 411.0h0M410.5 410.7h0M410.7 411.1h0M410.9 410.8h0M411.1 411.6h0M411.3 411.6h0M411.5 411.3h0M411.7 411.6h0M411.9 411.7h0M412.1 410.6h0M412.3 411.5h0M412.5 411.9h0M412.7 411.2h0M412.9 410.5h0M413.1 411.4h0M413.3 410.8h0M413.5 411.6h0M413.7 411.7h0M413.9 411.7h0M414.1 411.5h0M414.3 410.6h0M414.5 412.0h0M414.7 410.6h0M414.9 411.9h0M415.2 411.5h0M415.4 411.0h0M415.6 411.1h0M415.8 411.3h0M416.0 412.2h0M416.2 411.2h0M416.4 411.9h0M416.6 410.2h0M416.8 411.5h0M417.0 411.3h0M417.2 412.0h0M417.4 411.6h0M417.6 412.0h0M417.8 411.0h0M418.0 411.5h0M418.2 411.2h0M418.4 411.7h0M418.6 411.7h0M418.8 410.8h0M419.0 411.9h0M419.2 412.3h0M419.4 411.2h0M419.6 412.0h0M419.8 411.6h0M420.0 411.0h0M420.2 411.8h0M420.4 411.0h0M420.6 411.7h0M420.8 410.7h0M421.0 410.8h0M421.2 411.6h0M421.4 411.5h0M421.6 411.8h0M421.8 411.3h0M422.0 410.9h0M422.2 412.1h0M422.4 411.0h0M422.6 412.1h0M422.8 411.8h0M423.0 412.3h0M423.2 410.4h0M423.4 411.4h0M423.6 411.3h0M423.8 411.7h0M424.0 410.9h0M424.2 412.4h0M424.4 411.4h0M424.6 410.4h0M424.8 411.6h0M425.0 411.4h0M425.2 411.1h0M425.4 411.8h0M425.6 411.4h0M425.8 411.0h0M426.0 411.3h0M426.2 411.3h0M426.4 411.6h0M426.6 411.3h0M426.8 411.4h0M427.0 410.7h0M427.2 411.1h0M427.4 411.5h0M427.6 412.6h0M427.8 411.1h0M428.0 411.1h0M428.2 411.9h0M428.4 412.4h0M428.6 412.0h0M428.8 411.0h0M429.0 411.9h0M429.2 411.6h0M429.4 411.3h0M429.6 410.8h0M429.8 411.4h0M430.0 411.5h0M430.2 411.7h0M430.4 410.7h0M430.7 410.9h0M430.9 411.5h0M431.1 412.1h0M431.3 411.8h0M431.5 411.2h0M431.7 411.8h0M431.9 411.0h0M432.1 411.3h0M432.3 411.3h0M432.5 411.1h0M432.7 411.2h0M432.9 411.8h0M433.1 411.6h0M433.3 410.3h0M433.5 412.0h0M433.7 411.7h0M433.9 410.9h0M434.1 411.5h0M434.3 411.8h0M434.5 412.1h0M434.7 411.2h0M434.9 410.9h0M435.1 410.8h0M435.3 411.4h0M435.5 410.9h0M435.7 411.9h0M435.9 411.3h0M436.1 411.7h0M436.3 411.3h0M436.5 411.1h0M436.7 410.9h0M436.9 411.9h0M437.1 410.8h0M437.3 411.7h0M437.5 411.9h0M437.7 411.5h0M437.9 412.1h0M438.1 411.4h0M438.3 411.3h0M438.5 411.5h0M438.7 411.2h0M438.9 411.6h0M439.1 411.4h0M439.3 412.1h0M439.5 411.4h0M439.7 411.8h0M439.9 411.6h0M440.1 411.5h0M440.3 411.3h0M440.5 412.2h0M440.7 412.2h0M440.9 411.6h0M441.1 411.2h0M441.3 411.3h0M441.5 411.0h0M441.7 410.8h0M441.9 411.2h0M442.1 411.4h0M442.3 411.9h0M442.5 411.9h0M442.7 411.7h0M442.9 411.3h0M443.1 411.3h0M443.3 411.4h0M443.5 411.5h0M443.7 411.1h0M443.9 411.3h0M444.1 411.3h0" fill="none" stroke="#ff1a1a" stroke-width="2.5" stroke-linecap="round"/><polyline points="85.6,411.8 85.8,411.8 86.0,411.8 86.2,411.8 86.4,411.8 86.6,411.8 86.8,411.8 87.0,411.8 87.2,411.8 87.4,411.8 87.6,411.8 87.8,411.8 88.0,411.8 88.2,411.8 88.4,411.8 88.6,411.8 88.8,411.8 89.0,411.8 89.2,411.8 89.4,411.8 89.6,411.8 89.8,411.8 90.1,411.8 90.3,411.8 90.5,411.8 90.7,411.8 90.9,411.8 91.1,411.8 91.3,411.8 91.5,411.8 91.7,411.8 91.9,411.8 92.1,411.8 92.3,411.8 92.5,411.8 92.7,411.8 92.9,411.8 93.1,411.8 93.3,411.8 93.5,411.8 93.7,411.8 93.9,411.8 94.1,411.8 94.3,411.8 94.5,411.8 94.7,411.8 94.9,411.8 95.1,411.8 95.3,411.8 95.5,411.8 95.7,411.8 95.9,411.8 96.1,411.8 96.3,411.8 96.5,411.8 96.7,411.8 96.9,411.8 97.1,411.8 97.3,411.8 97.5,411.8 97.7,411.8 97.9,411.8 98.1,411.8 98.3,411.8 98.5,411.8 98.7,411.8 98.9,411.8 99.1,411.8 99.3,411.8 99.5,411.8 99.7,411.8 99.9,411.8 100.1,411.8 100.3,411.8 100.5,411.8 100.7,411.8 100.9,411.8 101.1,411.8 101.3,411.8 101.5,411.8 101.7,411.8 101.9,411.8 102.1,411.8 102.3,411.8 102.5,411.8 102.7,411.8 102.9,411.8 103.1,411.8 103.3,411.8 103.5,411.8 103.7,411.8 103.9,411.8 104.1,411.8 104.3,411.8 104.5,411.8 104.7,411.8 104.9,411.8 105.1,411.8 105.3,411.8 105.6,411.8 105.8,411.8 106.0,411.8 106.2,411.8 106.4,411.8 106.6,411.8 106.8,411.8 107.0,411.8 107.2,411.8 107.4,411.8 107.6,411.8 107.8,411.8 108.0,411.8 108.2,411.8 108.4,411.8 108.6,411.8 108.8,411.8 109.0,411.8 109.2,411.8 109.4,411.8 109.6,411.8 109.8,411.8 110.0,411.7 110.2,411.7 110.4,411.7 110.6,411.7 110.8,411.7 111.0,411.7 111.2,411.7 111.4,411.7 111.6,411.6 111.8,411.6 112.0,411.6 112.2,411.5 112.4,411.5 112.6,411.4 112.8,411.3 113.0,411.2 113.2,411.0 113.4,410.7 113.6,410.3 113.8,409.3 114.0,407.1 114.2,403.0 114.4,397.4 114.6,394.1 114.6,394.1 114.8,397.4 115.0,403.0 115.2,407.1 115.4,409.3 115.6,410.3 115.8,410.7 116.0,411.0 116.2,411.2 116.4,411.3 116.6,411.4 116.8,411.5 117.0,411.5 117.2,411.6 117.4,411.6 117.6,411.6 117.8,411.7 118.0,411.7 118.2,411.7 118.4,411.7 118.6,411.7 118.8,411.7 119.0,411.7 119.2,411.7 119.4,411.7 119.6,411.8 119.8,411.8 120.0,411.8 120.2,411.8 120.4,411.8 120.6,411.8 120.8,411.8 121.1,411.8 121.3,411.8 121.5,411.8 121.7,411.8 121.9,411.8 122.1,411.8 122.3,411.8 122.5,411.8 122.7,411.8 122.9,411.8 123.1,411.8 123.3,411.8 123.5,411.8 123.7,411.8 123.9,411.8 124.1,411.8 124.3,411.8 124.5,411.8 124.7,411.8 124.9,411.8 125.1,411.8 125.3,411.8 125.5,411.8 125.7,411.8 125.9,411.8 126.1,411.8 126.3,411.8 126.5,411.8 126.7,411.8 126.9,411.8 127.1,411.8 127.3,411.8 127.5,411.8 127.7,411.8 127.9,411.8 128.1,411.8 128.3,411.8 128.5,411.8 128.7,411.8 128.9,411.8 129.1,411.8 129.3,411.8 129.5,411.8 129.7,411.8 129.9,411.8 130.1,411.8 130.3,411.8 130.5,411.8 130.7,411.8 130.9,411.8 131.1,411.8 131.3,411.8 131.5,411.8 131.7,411.8 131.9,411.8 132.1,411.8 132.3,411.8 132.5,411.8 132.7,411.8 132.9,411.8 133.1,411.8 133.3,411.8 133.5,411.8 133.7,411.8 133.9,411.8 134.1,411.8 134.3,411.8 134.5,411.8 134.7,411.8 134.9,411.8 135.1,411.8 135.3,411.8 135.5,411.8 135.7,411.8 135.9,411.8 136.1,411.8 136.3,411.7 136.6,411.7 136.8,411.7 137.0,411.7 137.2,411.7 137.4,411.7 137.6,411.7 137.8,411.7 138.0,411.6 138.2,411.6 138.4,411.6 138.6,411.5 138.8,411.4 139.0,411.2 139.2,411.0 139.4,410.5 139.6,409.9 139.8,409.0 140.0,407.9 140.2,407.2 140.3,407.1 140.4,407.2 140.6,407.9 140.8,409.0 141.0,409.9 141.2,410.5 141.4,411.0 141.6,411.2 141.8,411.4 142.0,411.5 142.2,411.6 142.4,411.6 142.6,411.6 142.8,411.7 143.0,411.7 143.2,411.7 143.4,411.7 143.6,411.7 143.8,411.7 144.0,411.7 144.2,411.7 144.4,411.7 144.6,411.8 144.8,411.8 145.0,411.8 145.2,411.8 145.4,411.8 145.6,411.8 145.8,411.8 146.0,411.8 146.2,411.8 146.4,411.8 146.6,411.8 146.8,411.8 147.0,411.8 147.2,411.8 147.4,411.8 147.6,411.8 147.8,411.8 148.0,411.8 148.2,411.8 148.4,411.8 148.6,411.8 148.8,411.8 149.0,411.8 149.2,411.8 149.4,411.8 149.6,411.8 149.8,411.8 150.0,411.8 150.2,411.8 150.4,411.8 150.6,411.8 150.8,411.8 151.0,411.8 151.2,411.8 151.4,411.8 151.6,411.8 151.8,411.8 152.1,411.8 152.3,411.8 152.5,411.8 152.7,411.8 152.9,411.8 153.1,411.8 153.3,411.8 153.5,411.8 153.7,411.7 153.9,411.7 154.1,411.7 154.3,411.7 154.5,411.7 154.7,411.7 154.9,411.7 155.1,411.7 155.3,411.7 155.5,411.7 155.7,411.7 155.9,411.7 156.1,411.7 156.3,411.7 156.5,411.7 156.7,411.6 156.9,411.6 157.1,411.6 157.3,411.6 157.5,411.6 157.7,411.5 157.9,411.5 158.1,411.5 158.3,411.4 158.5,411.3 158.7,411.2 158.9,411.1 159.1,411.0 159.3,410.7 159.5,410.4 159.7,409.9 159.9,409.0 160.1,407.0 160.3,402.0 160.5,392.3 160.7,380.8 160.8,378.6 160.9,380.8 161.1,392.3 161.3,402.0 161.5,406.9 161.7,409.0 161.9,409.9 162.1,410.4 162.3,410.7 162.5,410.9 162.7,411.0 162.9,411.2 163.1,411.2 163.3,411.3 163.5,411.3 163.7,411.4 163.9,411.4 164.1,411.4 164.3,411.4 164.5,411.4 164.7,411.4 164.9,411.4 165.1,411.4 165.3,411.3 165.5,411.3 165.7,411.3 165.9,411.2 166.1,411.1 166.3,411.1 166.5,411.0 166.7,410.8 166.9,410.6 167.1,410.2 167.3,409.7 167.6,409.0 167.8,408.0 168.0,406.6 168.2,404.9 168.4,402.9 168.6,401.1 168.8,399.9 168.9,399.8 169.0,399.9 169.2,401.1 169.4,402.9 169.6,404.9 169.8,406.6 170.0,408.0 170.2,409.0 170.4,409.8 170.6,410.3 170.8,410.6 171.0,410.8 171.2,411.0 171.4,411.1 171.6,411.2 171.8,411.3 172.0,411.3 172.2,411.4 172.4,411.4 172.6,411.5 172.8,411.5 173.0,411.5 173.2,411.6 173.4,411.6 173.6,411.6 173.8,411.6 174.0,411.6 174.2,411.6 174.4,411.6 174.6,411.7 174.8,411.7 175.0,411.7 175.2,411.7 175.4,411.7 175.6,411.7 175.8,411.7 176.0,411.7 176.2,411.7 176.4,411.7 176.6,411.7 176.8,411.7 177.0,411.7 177.2,411.7 177.4,411.7 177.6,411.7 177.8,411.7 178.0,411.7 178.2,411.7 178.4,411.7 178.6,411.7 178.8,411.7 179.0,411.7 179.2,411.7 179.4,411.7 179.6,411.7 179.8,411.7 180.0,411.7 180.2,411.7 180.4,411.7 180.6,411.7 180.8,411.7 181.0,411.7 181.2,411.7 181.4,411.7 181.6,411.7 181.8,411.7 182.0,411.7 182.2,411.7 182.4,411.7 182.6,411.7 182.9,411.7 183.1,411.6 183.3,411.6 183.5,411.6 183.7,411.5 183.9,411.5 184.1,411.3 184.3,411.2 184.5,410.9 184.7,410.5 184.9,410.0 185.1,409.3 185.3,408.7 185.5,408.2 185.6,408.2 185.7,408.2 185.9,408.7 186.1,409.3 186.3,410.0 186.5,410.5 186.7,410.9 186.9,411.2 187.1,411.3 187.3,411.5 187.5,411.5 187.7,411.6 187.9,411.6 188.1,411.6 188.3,411.7 188.5,411.7 188.7,411.7 188.9,411.7 189.1,411.7 189.3,411.7 189.5,411.7 189.7,411.7 189.9,411.7 190.1,411.7 190.3,411.7 190.5,411.8 190.7,411.8 190.9,411.8 191.1,411.8 191.3,411.8 191.5,411.8 191.7,411.8 191.9,411.8 192.1,411.8 192.3,411.8 192.5,411.8 192.7,411.8 192.9,411.8 193.1,411.8 193.3,411.8 193.5,411.8 193.7,411.8 193.9,411.8 194.1,411.8 194.3,411.8 194.5,411.8 194.7,411.8 194.9,411.8 195.1,411.8 195.3,411.8 195.5,411.8 195.7,411.8 195.9,411.8 196.1,411.8 196.3,411.8 196.5,411.8 196.7,411.8 196.9,411.8 197.1,411.8 197.3,411.8 197.5,411.8 197.7,411.8 197.9,411.8 198.1,411.8 198.4,411.8 198.6,411.8 198.8,411.8 199.0,411.8 199.2,411.7 199.4,411.7 199.6,411.7 199.8,411.7 200.0,411.7 200.2,411.7 200.4,411.7 200.6,411.7 200.8,411.7 201.0,411.7 201.2,411.7 201.4,411.7 201.6,411.7 201.8,411.7 202.0,411.7 202.2,411.7 202.4,411.7 202.6,411.6 202.8,411.6 203.0,411.6 203.2,411.6 203.4,411.6 203.6,411.5 203.8,411.5 204.0,411.5 204.2,411.4 204.4,411.4 204.6,411.3 204.8,411.3 205.0,411.2 205.2,411.1 205.4,410.9 205.6,410.7 205.8,410.5 206.0,410.1 206.2,409.6 206.4,408.8 206.6,407.3 206.8,404.0 207.0,395.9 207.2,380.1 207.4,361.3 207.5,357.7 207.6,361.3 207.8,380.1 208.0,395.9 208.2,404.0 208.4,407.3 208.6,408.8 208.8,409.6 209.0,410.1 209.2,410.5 209.4,410.7 209.6,410.9 209.8,411.1 210.0,411.2 210.2,411.3 210.4,411.3 210.6,411.4 210.8,411.4 211.0,411.5 211.2,411.5 211.4,411.5 211.6,411.6 211.8,411.6 212.0,411.6 212.2,411.6 212.4,411.6 212.6,411.6 212.8,411.6 213.0,411.6 213.2,411.7 213.4,411.7 213.6,411.7 213.9,411.7 214.1,411.7 214.3,411.7 214.5,411.7 214.7,411.7 214.9,411.7 215.1,411.7 215.3,411.7 215.5,411.7 215.7,411.7 215.9,411.7 216.1,411.7 216.3,411.7 216.5,411.7 216.7,411.7 216.9,411.6 217.1,411.6 217.3,411.6 217.5,411.6 217.7,411.6 217.9,411.6 218.1,411.5 218.3,411.5 218.5,411.5 218.7,411.4 218.9,411.4 219.1,411.3 219.3,411.2 219.5,411.0 219.7,410.8 219.9,410.4 220.1,409.9 220.3,409.0 220.5,407.8 220.7,406.4 220.9,405.0 221.1,404.0 221.2,403.9 221.3,404.0 221.5,405.0 221.7,406.4 221.9,407.8 222.1,409.0 222.3,409.9 222.5,410.4 222.7,410.8 222.9,411.1 223.1,411.2 223.3,411.3 223.5,411.4 223.7,411.4 223.9,411.5 224.1,411.5 224.3,411.6 224.5,411.6 224.7,411.6 224.9,411.6 225.1,411.6 225.3,411.7 225.5,411.7 225.7,411.7 225.9,411.7 226.1,411.7 226.3,411.7 226.5,411.7 226.7,411.7 226.9,411.7 227.1,411.7 227.3,411.7 227.5,411.7 227.7,411.7 227.9,411.7 228.1,411.7 228.3,411.7 228.5,411.7 228.7,411.7 228.9,411.7 229.1,411.7 229.4,411.7 229.6,411.7 229.8,411.7 230.0,411.7 230.2,411.7 230.4,411.7 230.6,411.7 230.8,411.7 231.0,411.7 231.2,411.7 231.4,411.7 231.6,411.7 231.8,411.7 232.0,411.7 232.2,411.7 232.4,411.7 232.6,411.7 232.8,411.6 233.0,411.6 233.2,411.6 233.4,411.5 233.6,411.5 233.8,411.4 234.0,411.2 234.2,410.9 234.4,410.6 234.6,410.1 234.8,409.6 235.0,409.1 235.2,408.9 235.2,408.9 235.4,409.1 235.6,409.6 235.8,410.1 236.0,410.6 236.2,410.9 236.4,411.2 236.6,411.4 236.8,411.5 237.0,411.5 237.2,411.6 237.4,411.6 237.6,411.6 237.8,411.7 238.0,411.7 238.2,411.7 238.4,411.7 238.6,411.7 238.8,411.7 239.0,411.7 239.2,411.7 239.4,411.7 239.6,411.7 239.8,411.7 240.0,411.7 240.2,411.7 240.4,411.7 240.6,411.7 240.8,411.7 241.0,411.7 241.2,411.7 241.4,411.7 241.6,411.7 241.8,411.7 242.0,411.7 242.2,411.7 242.4,411.7 242.6,411.7 242.8,411.7 243.0,411.7 243.2,411.7 243.4,411.7 243.6,411.7 243.8,411.7 244.0,411.7 244.2,411.7 244.4,411.7 244.6,411.7 244.9,411.7 245.1,411.7 245.3,411.7 245.5,411.6 245.7,411.6 245.9,411.6 246.1,411.6 246.3,411.5 246.5,411.5 246.7,411.4 246.9,411.4 247.1,411.2 247.3,411.0 247.5,410.7 247.7,410.1 247.9,408.7 248.1,405.4 248.3,400.1 248.5,396.6 248.5,396.6 248.7,400.1 248.9,405.4 249.1,408.7 249.3,410.1 249.5,410.7 249.7,411.0 249.9,411.2 250.1,411.3 250.3,411.4 250.5,411.5 250.7,411.5 250.9,411.5 251.1,411.6 251.3,411.6 251.5,411.6 251.7,411.6 251.9,411.6 252.1,411.6 252.3,411.6 252.5,411.6 252.7,411.6 252.9,411.6 253.1,411.6 253.3,411.6 253.5,411.6 253.7,411.6 253.9,411.6 254.1,411.6 254.3,411.6 254.5,411.6 254.7,411.5 254.9,411.5 255.1,411.5 255.3,411.5 255.5,411.4 255.7,411.4 255.9,411.3 256.1,411.2 256.3,411.1 256.5,410.9 256.7,410.6 256.9,410.1 257.1,408.8 257.3,405.9 257.5,401.2 257.7,398.1 257.7,398.1 257.9,401.1 258.1,405.7 258.3,408.5 258.5,409.6 258.7,410.0 258.9,410.1 259.1,410.0 259.3,409.6 259.5,408.9 259.7,407.2 259.9,402.9 260.1,394.7 260.4,384.8 260.5,382.9 260.6,384.8 260.8,394.6 261.0,402.9 261.2,407.1 261.4,408.8 261.6,409.6 261.8,409.9 262.0,410.1 262.2,410.2 262.4,410.3 262.6,410.2 262.8,410.1 263.0,409.9 263.2,409.7 263.4,409.3 263.6,408.8 263.8,407.8 264.0,406.1 264.2,402.4 264.4,394.8 264.6,382.4 264.8,369.6 264.9,367.2 265.0,369.3 265.2,381.5 265.4,393.1 265.6,399.8 265.8,402.1 266.0,401.4 266.2,396.8 266.4,384.2 266.6,359.1 266.8,329.0 266.9,323.2 267.0,329.2 267.2,359.7 267.4,385.3 267.6,398.5 267.8,404.0 268.0,406.5 268.2,407.8 268.4,408.7 268.6,409.3 268.8,409.8 269.0,410.1 269.2,410.4 269.4,410.6 269.6,410.7 269.8,410.9 270.0,411.0 270.2,411.1 270.4,411.1 270.6,411.2 270.8,411.3 271.0,411.3 271.2,411.3 271.4,411.4 271.6,411.4 271.8,411.4 272.0,411.5 272.2,411.5 272.4,411.5 272.6,411.5 272.8,411.6 273.0,411.6 273.2,411.6 273.4,411.6 273.6,411.6 273.8,411.6 274.0,411.6 274.2,411.6 274.4,411.6 274.6,411.7 274.8,411.7 275.0,411.7 275.2,411.7 275.4,411.7 275.6,411.7 275.9,411.7 276.1,411.7 276.3,411.7 276.5,411.7 276.7,411.7 276.9,411.7 277.1,411.7 277.3,411.7 277.5,411.7 277.7,411.7 277.9,411.7 278.1,411.7 278.3,411.7 278.5,411.7 278.7,411.7 278.9,411.7 279.1,411.8 279.3,411.8 279.5,411.8 279.7,411.8 279.9,411.8 280.1,411.8 280.3,411.8 280.5,411.8 280.7,411.8 280.9,411.8 281.1,411.8 281.3,411.8 281.5,411.8 281.7,411.8 281.9,411.8 282.1,411.8 282.3,411.8 282.5,411.8 282.7,411.8 282.9,411.8 283.1,411.8 283.3,411.8 283.5,411.8 283.7,411.8 283.9,411.8 284.1,411.8 284.3,411.8 284.5,411.8 284.7,411.8 284.9,411.8 285.1,411.8 285.3,411.8 285.5,411.8 285.7,411.8 285.9,411.8 286.1,411.8 286.3,411.8 286.5,411.8 286.7,411.8 286.9,411.8 287.1,411.8 287.3,411.8 287.5,411.8 287.7,411.8 287.9,411.8 288.1,411.8 288.3,411.8 288.5,411.8 288.7,411.8 288.9,411.8 289.1,411.8 289.3,411.8 289.5,411.8 289.7,411.8 289.9,411.8 290.1,411.8 290.3,411.8 290.5,411.8 290.7,411.8 290.9,411.8 291.1,411.8 291.4,411.8 291.6,411.8 291.8,411.8 292.0,411.8 292.2,411.8 292.4,411.8 292.6,411.8 292.8,411.8 293.0,411.8 293.2,411.8 293.4,411.8 293.6,411.8 293.8,411.8 294.0,411.8 294.2,411.8 294.4,411.8 294.6,411.8 294.8,411.8 295.0,411.8 295.2,411.8 295.4,411.8 295.6,411.8 295.8,411.8 296.0,411.8 296.2,411.8 296.4,411.8 296.6,411.8 296.8,411.8 297.0,411.8 297.2,411.8 297.4,411.8 297.6,411.8 297.8,411.8 298.0,411.8 298.2,411.8 298.4,411.8 298.6,411.8 298.8,411.8 299.0,411.8 299.2,411.8 299.4,411.8 299.6,411.8 299.8,411.8 300.0,411.8 300.2,411.8 300.4,411.8 300.6,411.8 300.8,411.8 301.0,411.8 301.2,411.8 301.4,411.8 301.6,411.8 301.8,411.8 302.0,411.8 302.2,411.8 302.4,411.8 302.6,411.8 302.8,411.8 303.0,411.8 303.2,411.8 303.4,411.8 303.6,411.8 303.8,411.8 304.0,411.8 304.2,411.8 304.4,411.8 304.6,411.8 304.8,411.8 305.0,411.8 305.2,411.8 305.4,411.8 305.6,411.8 305.8,411.8 306.0,411.8 306.2,411.8 306.4,411.8 306.6,411.8 306.9,411.8 307.1,411.8 307.3,411.8 307.5,411.8 307.7,411.8 307.9,411.8 308.1,411.8 308.3,411.8 308.5,411.8 308.7,411.8 308.9,411.8 309.1,411.8 309.3,411.8 309.5,411.8 309.7,411.8 309.9,411.8 310.1,411.8 310.3,411.8 310.5,411.8 310.7,411.8 310.9,411.8 311.1,411.8 311.3,411.8 311.5,411.8 311.7,411.8 311.9,411.8 312.1,411.8 312.3,411.8 312.5,411.8 312.7,411.8 312.9,411.8 313.1,411.8 313.3,411.8 313.5,411.8 313.7,411.8 313.9,411.8 314.1,411.8 314.3,411.8 314.5,411.8 314.7,411.8 314.9,411.8 315.1,411.8 315.3,411.8 315.5,411.8 315.7,411.8 315.9,411.8 316.1,411.8 316.3,411.8 316.5,411.8 316.7,411.8 316.9,411.8 317.1,411.8 317.3,411.8 317.5,411.8 317.7,411.8 317.9,411.8 318.1,411.7 318.3,411.7 318.5,411.7 318.7,411.7 318.9,411.7 319.1,411.7 319.3,411.7 319.5,411.7 319.7,411.6 319.9,411.6 320.1,411.6 320.3,411.6 320.5,411.5 320.7,411.4 320.9,411.4 321.1,411.3 321.3,411.1 321.5,410.8 321.7,410.4 321.9,409.6 322.1,407.6 322.4,403.2 322.6,396.0 322.8,391.3 322.8,391.3 323.0,396.0 323.2,403.2 323.4,407.6 323.6,409.6 323.8,410.4 324.0,410.8 324.2,411.1 324.4,411.2 324.6,411.4 324.8,411.4 325.0,411.5 325.2,411.5 325.4,411.6 325.6,411.6 325.8,411.6 326.0,411.7 326.2,411.7 326.4,411.7 326.6,411.7 326.8,411.7 327.0,411.7 327.2,411.7 327.4,411.7 327.6,411.7 327.8,411.7 328.0,411.7 328.2,411.7 328.4,411.7 328.6,411.7 328.8,411.7 329.0,411.7 329.2,411.7 329.4,411.7 329.6,411.7 329.8,411.7 330.0,411.7 330.2,411.7 330.4,411.7 330.6,411.7 330.8,411.7 331.0,411.7 331.2,411.7 331.4,411.7 331.6,411.7 331.8,411.6 332.0,411.6 332.2,411.6 332.4,411.6 332.6,411.5 332.8,411.5 333.0,411.4 333.2,411.3 333.4,411.2 333.6,411.0 333.8,410.7 334.0,410.1 334.2,408.7 334.4,406.0 334.6,401.5 334.8,396.9 334.9,396.0 335.0,396.9 335.2,401.5 335.4,406.0 335.6,408.7 335.8,410.1 336.0,410.7 336.2,411.0 336.4,411.2 336.6,411.3 336.8,411.4 337.0,411.5 337.2,411.5 337.4,411.6 337.6,411.6 337.9,411.6 338.1,411.7 338.3,411.7 338.5,411.7 338.7,411.7 338.9,411.7 339.1,411.7 339.3,411.7 339.5,411.7 339.7,411.7 339.9,411.7 340.1,411.8 340.3,411.8 340.5,411.8 340.7,411.8 340.9,411.8 341.1,411.8 341.3,411.8 341.5,411.8 341.7,411.8 341.9,411.8 342.1,411.8 342.3,411.8 342.5,411.8 342.7,411.8 342.9,411.8 343.1,411.8 343.3,411.8 343.5,411.8 343.7,411.8 343.9,411.8 344.1,411.8 344.3,411.8 344.5,411.8 344.7,411.8 344.9,411.8 345.1,411.8 345.3,411.8 345.5,411.7 345.7,411.7 345.9,411.7 346.1,411.7 346.3,411.7 346.5,411.7 346.7,411.7 346.9,411.6 347.1,411.6 347.3,411.5 347.5,411.4 347.7,411.3 347.9,411.2 348.1,411.0 348.3,410.9 348.5,410.7 348.7,410.6 348.9,410.6 348.9,410.6 349.1,410.6 349.3,410.7 349.5,410.9 349.7,411.0 349.9,411.2 350.1,411.3 350.3,411.4 350.5,411.5 350.7,411.6 350.9,411.6 351.1,411.7 351.3,411.7 351.5,411.7 351.7,411.7 351.9,411.7 352.1,411.7 352.3,411.8 352.5,411.8 352.7,411.8 352.9,411.8 353.1,411.8 353.4,411.8 353.6,411.8 353.8,411.8 354.0,411.8 354.2,411.8 354.4,411.8 354.6,411.8 354.8,411.8 355.0,411.8 355.2,411.8 355.4,411.8 355.6,411.8 355.8,411.8 356.0,411.8 356.2,411.8 356.4,411.8 356.6,411.8 356.8,411.8 357.0,411.8 357.2,411.8 357.4,411.8 357.6,411.8 357.8,411.8 358.0,411.8 358.2,411.8 358.4,411.8 358.6,411.8 358.8,411.8 359.0,411.8 359.2,411.8 359.4,411.8 359.6,411.8 359.8,411.8 360.0,411.8 360.2,411.8 360.4,411.8 360.6,411.8 360.8,411.8 361.0,411.8 361.2,411.8 361.4,411.8 361.6,411.8 361.8,411.8 362.0,411.8 362.2,411.8 362.4,411.8 362.6,411.8 362.8,411.8 363.0,411.8 363.2,411.8 363.4,411.8 363.6,411.8 363.8,411.8 364.0,411.8 364.2,411.8 364.4,411.8 364.6,411.8 364.8,411.8 365.0,411.8 365.2,411.8 365.4,411.8 365.6,411.8 365.8,411.8 366.0,411.8 366.2,411.8 366.4,411.8 366.6,411.8 366.8,411.8 367.0,411.8 367.2,411.8 367.4,411.8 367.6,411.8 367.8,411.8 368.0,411.8 368.2,411.8 368.4,411.8 368.6,411.8 368.9,411.8 369.1,411.8 369.3,411.8 369.5,411.8 369.7,411.8 369.9,411.8 370.1,411.8 370.3,411.8 370.5,411.8 370.7,411.8 370.9,411.8 371.1,411.8 371.3,411.8 371.5,411.8 371.7,411.8 371.9,411.8 372.1,411.8 372.3,411.8 372.5,411.8 372.7,411.8 372.9,411.8 373.1,411.8 373.3,411.8 373.5,411.8 373.7,411.8 373.9,411.7 374.1,411.7 374.3,411.7 374.5,411.7 374.7,411.7 374.9,411.7 375.1,411.6 375.3,411.6 375.5,411.5 375.7,411.4 375.9,411.3 376.1,411.2 376.3,411.0 376.5,410.8 376.7,410.6 376.9,410.4 377.1,410.3 377.3,410.2 377.3,410.2 377.5,410.3 377.7,410.4 377.9,410.6 378.1,410.8 378.3,411.0 378.5,411.2 378.7,411.3 378.9,411.4 379.1,411.5 379.3,411.6 379.5,411.6 379.7,411.7 379.9,411.7 380.1,411.7 380.3,411.7 380.5,411.7 380.7,411.7 380.9,411.7 381.1,411.8 381.3,411.8 381.5,411.8 381.7,411.8 381.9,411.8 382.1,411.8 382.3,411.8 382.5,411.8 382.7,411.8 382.9,411.8 383.1,411.8 383.3,411.8 383.5,411.8 383.7,411.8 383.9,411.8 384.2,411.8 384.4,411.8 384.6,411.8 384.8,411.8 385.0,411.8 385.2,411.8 385.4,411.8 385.6,411.8 385.8,411.8 386.0,411.8 386.2,411.8 386.4,411.8 386.6,411.8 386.8,411.8 387.0,411.8 387.2,411.7 387.4,411.7 387.6,411.7 387.8,411.7 388.0,411.7 388.2,411.7 388.4,411.7 388.6,411.7 388.8,411.6 389.0,411.6 389.2,411.5 389.4,411.5 389.6,411.3 389.8,411.1 390.0,410.8 390.2,410.3 390.4,409.5 390.6,408.7 390.8,408.1 390.9,408.0 391.0,408.1 391.2,408.7 391.4,409.5 391.6,410.2 391.8,410.8 392.0,411.1 392.2,411.3 392.4,411.5 392.6,411.5 392.8,411.6 393.0,411.6 393.2,411.6 393.4,411.6 393.6,411.7 393.8,411.7 394.0,411.7 394.2,411.7 394.4,411.7 394.6,411.7 394.8,411.7 395.0,411.7 395.2,411.7 395.4,411.6 395.6,411.6 395.8,411.6 396.0,411.6 396.2,411.5 396.4,411.5 396.6,411.4 396.8,411.3 397.0,411.0 397.2,410.6 397.4,410.0 397.6,409.1 397.8,408.0 398.0,406.9 398.2,406.4 398.2,406.4 398.4,406.9 398.6,408.0 398.8,409.1 399.0,410.0 399.2,410.6 399.4,411.0 399.7,411.3 399.9,411.4 400.1,411.5 400.3,411.5 400.5,411.6 400.7,411.6 400.9,411.7 401.1,411.7 401.3,411.7 401.5,411.7 401.7,411.7 401.9,411.7 402.1,411.7 402.3,411.7 402.5,411.8 402.7,411.8 402.9,411.8 403.1,411.8 403.3,411.8 403.5,411.8 403.7,411.8 403.9,411.8 404.1,411.8 404.3,411.8 404.5,411.8 404.7,411.8 404.9,411.8 405.1,411.8 405.3,411.8 405.5,411.8 405.7,411.8 405.9,411.8 406.1,411.8 406.3,411.8 406.5,411.8 406.7,411.8 406.9,411.8 407.1,411.8 407.3,411.8 407.5,411.8 407.7,411.8 407.9,411.8 408.1,411.8 408.3,411.8 408.5,411.8 408.7,411.8 408.9,411.8 409.1,411.8 409.3,411.8 409.5,411.8 409.7,411.8 409.9,411.8 410.1,411.8 410.3,411.8 410.5,411.8 410.7,411.8 410.9,411.8 411.1,411.8 411.3,411.8 411.5,411.8 411.7,411.8 411.9,411.8 412.1,411.8 412.3,411.8 412.5,411.8 412.7,411.8 412.9,411.8 413.1,411.8 413.3,411.8 413.5,411.8 413.7,411.8 413.9,411.8 414.1,411.8 414.3,411.8 414.5,411.8 414.7,411.8 414.9,411.8 415.2,411.8 415.4,411.8 415.6,411.8 415.8,411.8 416.0,411.8 416.2,411.8 416.4,411.8 416.6,411.8 416.8,411.8 417.0,411.8 417.2,411.8 417.4,411.8 417.6,411.8 417.8,411.8 418.0,411.8 418.2,411.8 418.4,411.8 418.6,411.8 418.8,411.8 419.0,411.8 419.2,411.8 419.4,411.8 419.6,411.8 419.8,411.8 420.0,411.8 420.2,411.8 420.4,411.8 420.6,411.8 420.8,411.8 421.0,411.8 421.2,411.8 421.4,411.8 421.6,411.8 421.8,411.8 422.0,411.8 422.2,411.8 422.4,411.8 422.6,411.8 422.8,411.8 423.0,411.8 423.2,411.8 423.4,411.8 423.6,411.8 423.8,411.8 424.0,411.8 424.2,411.8 424.4,411.8 424.6,411.8 424.8,411.8 425.0,411.8 425.2,411.8 425.4,411.8 425.6,411.8 425.8,411.8 426.0,411.8 426.2,411.8 426.4,411.8 426.6,411.8 426.8,411.8 427.0,411.8 427.2,411.8 427.4,411.8 427.6,411.8 427.8,411.8 428.0,411.8 428.2,411.8 428.4,411.8 428.6,411.8 428.8,411.8 429.0,411.8 429.2,411.8 429.4,411.8 429.6,411.8 429.8,411.8 430.0,411.8 430.2,411.8 430.4,411.8 430.7,411.8 430.9,411.8 431.1,411.8 431.3,411.8 431.5,411.8 431.7,411.8 431.9,411.8 432.1,411.8 432.3,411.8 432.5,411.8 432.7,411.8 432.9,411.8 433.1,411.8 433.3,411.8 433.5,411.8 433.7,411.8 433.9,411.8 434.1,411.8 434.3,411.8 434.5,411.8 434.7,411.8 434.9,411.8 435.1,411.8 435.3,411.8 435.5,411.8 435.7,411.8 435.9,411.8 436.1,411.8 436.3,411.8 436.5,411.8 436.7,411.8 436.9,411.8 437.1,411.8 437.3,411.8 437.5,411.8 437.7,411.8 437.9,411.8 438.1,411.8 438.3,411.8 438.5,411.8 438.7,411.8 438.9,411.8 439.1,411.8 439.3,411.8 439.5,411.8 439.7,411.8 439.9,411.8 440.1,411.8 440.3,411.8 440.5,411.8 440.7,411.8 440.9,411.8 441.1,411.8 441.3,411.8 441.5,411.8 441.7,411.8 441.9,411.8 442.1,411.8 442.3,411.8 442.5,411.8 442.7,411.8 442.9,411.8 443.1,411.8 443.3,411.8 443.5,411.8 443.7,411.8 443.9,411.8 444.1,411.8" fill="none" stroke="#000" stroke-width="1.1" stroke-linejoin="round"/><polyline points="86.1,457.9 86.4,457.4 86.8,457.1 87.1,458.0 87.5,457.9 87.8,457.6 88.2,457.5 88.5,459.0 88.9,457.3 89.2,457.6 89.6,457.8 89.9,457.1 90.3,457.8 90.6,458.7 91.0,458.2 91.3,458.0 91.7,458.0 92.0,457.8 92.4,458.2 92.7,457.6 93.1,457.5 93.4,457.8 93.8,458.2 94.1,457.9 94.5,458.1 94.8,456.6 95.2,458.4 95.5,459.0 95.9,458.4 96.2,457.5 96.6,457.2 96.9,457.9 97.3,457.2 97.6,458.1 98.0,457.4 98.3,458.2 98.7,458.4 99.0,456.6 99.4,457.9 99.7,457.3 100.1,456.9 100.4,457.4 100.8,457.6 101.1,458.3 101.5,456.9 101.8,458.3 102.2,458.8 102.5,458.0 102.9,458.0 103.2,457.7 103.6,457.1 103.9,458.0 104.3,457.9 104.6,458.1 105.0,459.1 105.3,458.1 105.7,457.9 106.0,458.6 106.4,457.0 106.7,457.1 107.1,457.5 107.4,457.3 107.8,458.1 108.1,457.5 108.5,458.7 108.8,458.5 109.2,458.1 109.5,457.5 109.9,458.0 110.2,458.1 110.6,457.1 110.9,457.9 111.3,458.1 111.6,457.8 112.0,458.6 112.3,458.4 112.7,457.2 113.0,457.8 113.4,457.2 113.6,457.7 114.5,474.2 115.0,457.7 115.7,442.3 116.7,457.7 117.0,458.0 117.4,457.2 117.7,458.2 118.1,457.9 118.4,458.2 118.8,457.6 119.1,456.9 119.5,458.7 119.8,457.6 120.2,458.5 120.5,457.9 120.9,458.1 121.2,458.7 121.6,457.9 121.9,458.5 122.3,456.9 122.6,458.2 123.0,457.6 123.3,457.6 123.7,457.7 124.0,457.9 124.4,458.6 124.7,456.7 125.1,457.7 125.4,457.3 125.8,458.3 126.1,457.5 126.5,458.0 126.8,457.5 127.2,458.1 127.5,458.3 127.9,457.5 128.2,457.7 128.6,456.9 128.9,457.9 129.3,458.2 129.6,457.4 130.0,458.3 130.3,456.6 130.7,456.7 131.0,456.9 131.4,457.4 131.7,457.7 132.1,457.7 132.4,457.7 132.8,458.1 133.1,457.4 133.5,457.0 133.8,457.0 134.2,458.9 134.5,456.4 134.9,457.6 135.2,458.5 135.6,458.0 135.9,457.2 136.3,457.7 136.6,458.2 137.0,458.4 137.3,457.2 137.7,458.1 138.0,457.8 138.4,458.3 138.7,458.5 139.1,457.5 139.4,456.9 139.8,457.9 140.0,457.7 140.8,460.6 141.6,457.7 141.9,458.7 142.3,458.1 142.6,457.8 143.0,459.0 143.3,457.1 143.7,458.2 144.0,457.4 144.4,457.7 144.7,457.7 145.1,458.5 145.4,457.2 145.8,457.4 146.1,456.8 146.5,458.0 146.8,457.4 147.2,457.9 147.5,457.1 147.9,457.5 148.2,458.3 148.6,457.6 148.9,458.0 149.3,458.0 149.6,457.5 150.0,456.8 150.3,458.2 150.7,457.8 151.0,458.2 151.4,456.6 151.7,456.8 152.1,456.5 152.4,457.2 152.8,458.3 153.1,458.0 153.5,457.7 153.8,457.8 154.2,458.1 154.5,457.5 154.9,457.9 155.2,457.7 156.5,447.0 157.6,443.0 158.3,447.0 159.1,457.7 160.2,470.0 161.0,490.2 161.6,475.0 162.3,457.7 162.7,457.8 163.0,456.5 163.3,457.5 163.7,458.4 164.0,457.5 164.4,457.6 164.7,457.4 165.1,457.4 165.4,458.3 165.8,457.6 166.1,457.1 166.5,456.0 167.0,457.7 167.8,455.5 168.3,457.7 168.9,463.5 169.6,457.7 169.9,457.4 170.3,456.6 170.6,456.7 171.0,458.1 171.3,458.1 171.7,456.6 172.0,458.2 172.4,458.0 172.7,457.3 173.1,458.1 173.4,456.8 173.8,457.0 174.1,456.9 174.5,457.1 174.8,458.2 175.2,457.0 175.5,457.1 175.9,457.2 176.2,457.8 176.6,457.5 176.9,458.2 177.3,457.3 177.6,457.0 178.0,457.4 178.3,457.7 178.7,457.2 179.0,457.9 179.4,458.7 179.7,457.4 180.1,457.7 180.4,458.4 180.8,457.3 181.1,457.2 181.5,457.1 181.8,457.9 182.2,458.0 182.5,457.6 182.9,457.7 183.2,458.4 183.6,458.2 183.9,456.9 184.3,457.7 184.6,457.7 185.0,458.1 185.3,457.6 185.7,457.3 186.0,457.4 186.4,456.7 186.7,457.7 187.1,457.4 187.4,457.9 187.8,457.1 188.1,457.4 188.5,457.1 188.8,457.1 189.2,458.1 189.5,457.4 189.9,457.9 190.2,457.1 190.6,457.7 190.9,456.8 191.3,457.4 191.6,457.4 192.0,458.0 192.3,457.8 192.7,457.6 193.0,458.1 193.4,457.8 193.7,458.0 194.1,458.1 194.4,457.6 194.8,457.5 195.1,457.9 195.5,457.4 195.8,457.9 196.2,458.3 196.5,458.1 196.9,457.5 197.2,457.0 197.6,457.6 197.9,457.6 198.3,458.3 198.6,457.5 199.0,457.6 199.3,458.1 199.7,457.4 200.0,457.6 200.4,458.6 200.7,458.5 201.2,457.7 201.8,459.5 202.6,457.7 202.9,458.0 203.3,457.8 203.6,457.1 204.0,458.0 204.2,457.7 205.7,451.8 206.6,467.7 207.0,455.0 207.5,479.5 208.0,458.0 208.6,448.2 209.5,456.8 210.3,457.7 210.7,457.7 211.0,457.8 211.3,457.4 211.7,457.7 212.0,457.6 212.4,457.8 212.7,458.5 213.1,457.9 213.4,456.8 213.8,457.1 214.1,456.8 214.5,457.2 214.8,458.0 215.2,457.9 215.5,457.3 215.9,457.8 216.2,457.3 216.6,456.9 216.9,456.9 217.3,457.2 217.6,458.5 218.0,456.9 218.3,458.4 218.7,458.4 219.0,457.6 219.4,457.6 219.7,457.3 220.1,457.7 220.4,458.0 220.8,457.7 221.4,460.0 222.0,457.7 222.3,457.7 222.7,458.2 223.0,458.3 223.4,457.9 223.7,457.9 224.1,457.6 224.4,457.9 224.8,457.1 225.1,457.9 225.5,457.8 225.8,457.2 226.2,458.9 226.5,457.1 226.9,457.2 227.2,457.8 227.6,456.6 227.9,457.2 228.3,456.8 228.6,457.1 229.0,457.6 229.3,457.8 229.7,458.3 230.0,458.1 230.4,458.3 230.7,458.0 231.1,457.4 231.4,458.3 231.8,457.4 232.1,457.3 232.5,458.5 232.8,458.1 233.2,457.8 233.5,458.1 233.9,458.2 234.2,456.9 234.6,457.6 234.9,457.0 235.3,457.7 235.6,457.3 236.0,458.4 236.3,458.0 236.7,457.2 237.0,457.7 237.4,457.0 237.7,457.7 238.1,458.0 238.4,457.8 238.8,456.6 239.1,457.5 239.5,457.9 239.8,457.8 240.2,458.3 240.5,457.0 240.9,458.0 241.2,457.3 241.6,457.8 241.9,457.9 242.3,458.0 242.6,457.4 243.0,457.8 243.3,457.0 243.7,456.9 244.0,458.0 244.4,457.6 244.7,456.8 245.1,457.2 245.4,457.7 245.8,458.5 246.1,458.2 246.5,458.1 247.0,457.7 248.4,470.0 249.5,456.8 250.9,453.6 253.2,446.4 254.5,453.2 256.4,456.8 257.7,467.3 259.3,450.0 260.2,452.3 261.1,471.4 262.5,451.4 263.8,446.8 264.7,454.0 265.5,480.5 266.4,440.5 267.1,474.1 267.7,462.3 268.4,466.0 270.0,450.9 271.8,456.8 273.6,457.7 274.0,456.7 274.3,457.6 274.7,457.9 275.0,457.9 275.4,457.9 275.7,457.5 276.1,458.6 276.4,458.5 276.8,457.6 277.1,457.1 277.5,458.8 277.8,457.4 278.2,458.3 278.5,458.7 278.9,457.1 279.2,457.8 279.6,457.5 279.9,458.0 280.3,457.8 280.6,458.7 281.0,458.0 281.3,457.7 281.7,458.3 282.0,457.5 282.4,457.5 282.7,458.9 283.1,457.2 283.4,457.4 283.8,457.7 284.1,457.1 284.5,456.5 284.8,458.2 285.2,457.2 285.5,457.4 285.9,457.5 286.2,457.1 286.6,457.1 286.9,457.8 287.3,459.0 287.6,458.1 288.0,458.1 288.3,456.8 288.7,457.7 289.0,457.0 289.4,458.1 289.7,457.5 290.1,457.7 290.4,457.6 290.8,457.3 291.1,456.8 291.5,458.0 291.8,456.9 292.2,457.0 292.5,457.5 292.9,457.3 293.2,457.8 293.6,458.2 293.9,457.8 294.3,457.8 294.6,457.7 295.0,458.1 295.3,456.7 295.7,457.9 296.0,457.2 296.4,457.0 296.7,457.7 297.1,457.5 297.4,458.0 297.8,458.3 298.1,456.4 298.5,457.6 298.8,458.7 299.2,458.1 299.5,458.5 299.9,457.7 300.2,456.9 300.6,457.0 300.9,458.1 301.3,458.2 301.6,457.3 302.0,457.5 302.3,457.8 302.7,456.7 303.0,457.5 303.4,458.6 303.7,458.9 304.1,457.6 304.4,458.7 304.8,457.4 305.1,457.2 305.5,456.4 305.8,458.2 306.2,457.5 306.5,459.0 306.9,457.9 307.2,457.8 307.6,456.7 307.9,458.5 308.3,457.5 308.6,457.6 309.0,456.5 309.3,458.2 309.7,458.2 310.0,457.3 310.4,457.7 310.7,457.9 311.1,458.2 311.4,457.7 311.8,458.6 312.1,457.5 312.5,457.3 312.8,457.4 313.2,456.3 313.5,457.2 313.9,458.2 314.2,457.8 314.6,457.2 314.9,457.9 315.3,456.6 315.6,457.5 316.0,458.0 316.3,458.1 316.7,457.2 317.0,458.2 317.4,458.7 317.7,457.4 318.1,458.1 318.4,456.8 318.8,456.6 319.1,458.0 319.6,457.7 320.2,459.4 321.5,451.7 322.4,457.7 323.4,470.3 324.2,458.0 325.5,457.7 325.9,457.7 326.2,457.8 326.6,457.4 326.9,457.5 327.3,458.1 327.6,457.7 328.3,456.8 329.2,457.7 331.2,460.8 332.2,457.7 333.5,452.0 334.3,457.7 335.2,465.6 336.3,457.7 336.7,458.6 337.0,457.6 337.4,456.8 337.7,458.4 338.1,458.0 338.4,458.0 338.8,457.8 339.1,458.9 339.5,457.7 339.8,458.0 340.2,456.7 340.5,457.4 340.9,457.3 341.2,457.7 341.6,457.9 341.9,457.3 342.3,458.6 342.6,457.1 343.0,457.4 343.3,457.8 343.7,457.0 344.0,458.0 344.4,458.0 344.7,457.5 345.1,458.7 345.4,457.7 345.8,457.8 346.1,457.1 346.5,456.8 346.8,457.3 347.2,457.5 347.5,457.4 347.9,458.1 348.2,456.4 348.6,457.0 348.9,456.7 349.3,458.4 349.6,457.4 350.0,457.4 350.3,457.1 350.7,458.2 351.0,457.4 351.4,457.8 351.7,456.6 352.1,458.3 352.4,457.9 352.8,458.0 353.1,458.4 353.5,457.6 353.8,457.6 354.2,458.1 354.5,457.9 354.9,457.5 355.2,457.7 355.6,457.4 355.9,458.1 356.3,458.2 356.6,457.7 357.0,458.7 357.3,456.8 357.7,457.5 358.0,458.6 358.4,457.4 358.7,456.8 359.1,458.4 359.4,458.0 359.8,457.0 360.1,458.1 360.5,457.1 360.8,456.9 361.2,457.6 361.5,457.4 361.9,457.1 362.2,457.5 362.6,457.1 362.9,457.7 363.3,457.7 363.6,458.1 364.0,457.4 364.3,456.9 364.7,456.9 365.0,457.5 365.4,458.5 365.7,458.1 366.1,457.3 366.4,458.2 366.8,457.0 367.1,458.2 367.5,457.5 367.8,458.1 368.2,458.0 368.5,457.5 368.9,457.9 369.2,457.1 369.6,457.6 369.9,458.3 370.3,459.9 370.6,458.1 371.0,457.7 371.3,457.1 371.7,458.3 372.0,456.8 372.4,457.2 372.7,457.9 373.1,457.0 373.4,458.5 373.8,458.3 374.1,457.4 374.5,457.4 374.8,456.9 375.2,456.9 375.5,457.9 375.9,458.0 376.2,457.9 376.6,457.8 376.9,457.4 377.3,457.9 377.6,456.9 378.0,457.7 378.3,458.5 378.7,458.4 379.0,457.4 379.4,457.5 379.7,458.4 380.1,458.7 380.4,456.8 380.8,457.4 381.1,457.8 381.5,458.3 381.8,457.2 382.2,458.0 382.5,457.5 382.9,459.0 383.2,457.9 383.6,457.6 383.9,457.5 384.3,458.3 384.6,458.1 385.0,457.1 385.3,457.8 385.7,456.9 386.0,457.3 386.4,457.0 386.7,456.9 387.1,457.3 387.4,457.1 387.8,458.0 388.1,458.1 388.5,457.5 388.8,457.1 389.2,458.1 389.5,456.6 389.9,456.6 390.2,458.1 390.6,458.0 390.9,458.2 391.3,457.6 391.6,457.0 392.0,457.4 392.3,458.0 392.7,457.3 393.0,457.3 393.4,456.9 393.7,457.0 394.1,458.1 394.4,457.9 394.8,457.0 395.1,457.1 395.5,457.4 395.8,458.0 396.2,457.0 396.5,457.6 396.9,456.5 397.2,457.0 397.6,457.9 397.9,458.2 398.3,457.0 398.6,457.2 399.0,458.1 399.3,457.5 399.7,457.4 400.0,458.0 400.4,457.8 400.7,458.3 401.1,458.1 401.4,457.4 401.8,457.6 402.1,457.6 402.5,456.9 402.8,457.1 403.2,458.2 403.5,456.8 403.9,458.2 404.2,457.8 404.6,457.6 404.9,458.0 405.3,457.9 405.6,458.3 406.0,457.5 406.3,457.6 406.7,457.5 407.0,458.7 407.4,458.2 407.7,457.2 408.1,457.5 408.4,457.3 408.8,457.7 409.1,457.8 409.5,458.9 409.8,456.7 410.2,458.2 410.5,457.9 410.9,457.3 411.2,457.6 411.6,457.4 411.9,457.7 412.3,458.2 412.6,456.8 413.0,458.4 413.3,457.5 413.7,458.5 414.0,457.9 414.4,458.4 414.7,458.0 415.1,458.3 415.4,457.7 415.8,457.2 416.1,458.1 416.5,458.1 416.8,458.8 417.2,456.6 417.5,457.6 417.9,458.3 418.2,457.0 418.6,457.6 418.9,458.8 419.3,458.5 419.6,457.2 420.0,458.5 420.3,458.3 420.7,458.1 421.0,457.9 421.4,457.8 421.7,457.2 422.1,457.4 422.4,458.1 422.8,457.8 423.1,458.7 423.5,457.5 423.8,456.4 424.2,457.5 424.5,457.8 424.9,457.9 425.2,457.7 425.6,457.2 425.9,458.5 426.3,457.3 426.6,458.1 427.0,457.5 427.3,457.0 427.7,458.5 428.0,456.3 428.4,457.2 428.7,457.9 429.1,457.5 429.4,458.1 429.8,457.6 430.1,457.4 430.5,458.9 430.8,457.6 431.2,457.6 431.5,457.1 431.9,457.3 432.2,458.0 432.6,458.0 432.9,457.7 433.3,457.3 433.6,458.1 434.0,456.8 434.3,457.5 434.7,457.6 435.0,457.2 435.4,457.8 435.7,457.3 436.1,457.2 436.4,458.7 436.8,458.1 437.1,458.4 437.5,457.7 437.8,458.2 438.2,458.1 438.5,458.4 438.9,459.0 439.2,457.6 439.6,457.8 439.9,457.7 440.3,455.8 440.6,456.9 441.0,457.7 441.3,458.0 441.7,457.4 442.0,458.3 442.4,458.4 442.7,457.5 443.1,458.5 443.4,458.7 443.8,458.0" fill="none" stroke="#2a2aff" stroke-width="1.0" stroke-linejoin="round"/><path d="M114.6 419v6.6M138.0 419v6.6M140.7 419v6.6M144.3 419v6.6M161.0 419v6.6M168.9 419v6.6M170.6 419v6.6M172.0 419v6.6M177.2 419v6.6M186.6 419v6.6M196.0 419v6.6M201.7 419v6.6M207.1 419v6.6M212.3 419v6.6M216.9 419v6.6M221.1 419v6.6M225.3 419v6.6M235.7 419v6.6M237.8 419v6.6M248.9 419v6.6M258.0 419v6.6M260.3 419v6.6M262.2 419v6.6M265.4 419v6.6M266.6 419v6.6M268.1 419v6.6M269.5 419v6.6M277.5 419v6.6M280.2 419v6.6M285.2 419v6.6M304.2 419v6.6M306.2 419v6.6M308.7 419v6.6M313.4 419v6.6M314.7 419v6.6M315.9 419v6.6M317.5 419v6.6M319.2 419v6.6M320.9 419v6.6M323.1 419v6.6M325.1 419v6.6M326.7 419v6.6M328.9 419v6.6M335.1 419v6.6M337.6 419v6.6M340.1 419v6.6M349.3 419v6.6M350.9 419v6.6M353.1 419v6.6M356.8 419v6.6M358.9 419v6.6M361.0 419v6.6M363.5 419v6.6M366.0 419v6.6M368.1 419v6.6M370.0 419v6.6M372.1 419v6.6M373.9 419v6.6M377.4 419v6.6M378.8 419v6.6M381.9 419v6.6M385.4 419v6.6M386.7 419v6.6M391.6 419v6.6M393.0 419v6.6M395.2 419v6.6M396.6 419v6.6M403.7 419v6.6M404.9 419v6.6M406.7 419v6.6M407.9 419v6.6M409.4 419v6.6M410.8 419v6.6M412.0 419v6.6M413.8 419v6.6M415.0 419v6.6M416.5 419v6.6M418.2 419v6.6M420.0 419v6.6M421.8 419v6.6M423.6 419v6.6M428.9 419v6.6M431.0 419v6.6M436.0 419v6.6M437.8 419v6.6M440.4 419v6.6M442.5 419v6.6M443.6 419v6.6" stroke="#148a14" stroke-width="1.0"/><path d="M330.9 419v6.6M332.6 419v6.6" stroke="#ff3030" stroke-width="0.9"/><rect x="66.7" y="301.2" width="402.6" height="190.0" fill="none" stroke="#000" stroke-width="1.3"/><line x1="66.7" y1="485.0" x2="71.2" y2="485.0" stroke="#000" stroke-width="0.75"/><line x1="469.3" y1="485.0" x2="464.8" y2="485.0" stroke="#000" stroke-width="0.75"/><line x1="66.7" y1="478.7" x2="71.2" y2="478.7" stroke="#000" stroke-width="0.75"/><line x1="469.3" y1="478.7" x2="464.8" y2="478.7" stroke="#000" stroke-width="0.75"/><line x1="66.7" y1="472.4" x2="71.2" y2="472.4" stroke="#000" stroke-width="0.75"/><line x1="469.3" y1="472.4" x2="464.8" y2="472.4" stroke="#000" stroke-width="0.75"/><line x1="66.7" y1="466.1" x2="71.2" y2="466.1" stroke="#000" stroke-width="0.75"/><line x1="469.3" y1="466.1" x2="464.8" y2="466.1" stroke="#000" stroke-width="0.75"/><line x1="66.7" y1="459.8" x2="72.9" y2="459.8" stroke="#000" stroke-width="1.4"/><line x1="469.3" y1="459.8" x2="463.1" y2="459.8" stroke="#000" stroke-width="1.4"/><line x1="66.7" y1="453.5" x2="71.2" y2="453.5" stroke="#000" stroke-width="0.75"/><line x1="469.3" y1="453.5" x2="464.8" y2="453.5" stroke="#000" stroke-width="0.75"/><line x1="66.7" y1="447.2" x2="71.2" y2="447.2" stroke="#000" stroke-width="0.75"/><line x1="469.3" y1="447.2" x2="464.8" y2="447.2" stroke="#000" stroke-width="0.75"/><line x1="66.7" y1="440.9" x2="71.2" y2="440.9" stroke="#000" stroke-width="0.75"/><line x1="469.3" y1="440.9" x2="464.8" y2="440.9" stroke="#000" stroke-width="0.75"/><line x1="66.7" y1="434.6" x2="71.2" y2="434.6" stroke="#000" stroke-width="0.75"/><line x1="469.3" y1="434.6" x2="464.8" y2="434.6" stroke="#000" stroke-width="0.75"/><line x1="66.7" y1="428.2" x2="72.9" y2="428.2" stroke="#000" stroke-width="1.4"/><line x1="469.3" y1="428.2" x2="463.1" y2="428.2" stroke="#000" stroke-width="1.4"/><line x1="66.7" y1="421.9" x2="71.2" y2="421.9" stroke="#000" stroke-width="0.75"/><line x1="469.3" y1="421.9" x2="464.8" y2="421.9" stroke="#000" stroke-width="0.75"/><line x1="66.7" y1="415.6" x2="71.2" y2="415.6" stroke="#000" stroke-width="0.75"/><line x1="469.3" y1="415.6" x2="464.8" y2="415.6" stroke="#000" stroke-width="0.75"/><line x1="66.7" y1="409.3" x2="71.2" y2="409.3" stroke="#000" stroke-width="0.75"/><line x1="469.3" y1="409.3" x2="464.8" y2="409.3" stroke="#000" stroke-width="0.75"/><line x1="66.7" y1="403.0" x2="71.2" y2="403.0" stroke="#000" stroke-width="0.75"/><line x1="469.3" y1="403.0" x2="464.8" y2="403.0" stroke="#000" stroke-width="0.75"/><line x1="66.7" y1="396.7" x2="72.9" y2="396.7" stroke="#000" stroke-width="1.4"/><line x1="469.3" y1="396.7" x2="463.1" y2="396.7" stroke="#000" stroke-width="1.4"/><line x1="66.7" y1="390.4" x2="71.2" y2="390.4" stroke="#000" stroke-width="0.75"/><line x1="469.3" y1="390.4" x2="464.8" y2="390.4" stroke="#000" stroke-width="0.75"/><line x1="66.7" y1="384.1" x2="71.2" y2="384.1" stroke="#000" stroke-width="0.75"/><line x1="469.3" y1="384.1" x2="464.8" y2="384.1" stroke="#000" stroke-width="0.75"/><line x1="66.7" y1="377.7" x2="71.2" y2="377.7" stroke="#000" stroke-width="0.75"/><line x1="469.3" y1="377.7" x2="464.8" y2="377.7" stroke="#000" stroke-width="0.75"/><line x1="66.7" y1="371.4" x2="71.2" y2="371.4" stroke="#000" stroke-width="0.75"/><line x1="469.3" y1="371.4" x2="464.8" y2="371.4" stroke="#000" stroke-width="0.75"/><line x1="66.7" y1="365.1" x2="72.9" y2="365.1" stroke="#000" stroke-width="1.4"/><line x1="469.3" y1="365.1" x2="463.1" y2="365.1" stroke="#000" stroke-width="1.4"/><line x1="66.7" y1="358.8" x2="71.2" y2="358.8" stroke="#000" stroke-width="0.75"/><line x1="469.3" y1="358.8" x2="464.8" y2="358.8" stroke="#000" stroke-width="0.75"/><line x1="66.7" y1="352.5" x2="71.2" y2="352.5" stroke="#000" stroke-width="0.75"/><line x1="469.3" y1="352.5" x2="464.8" y2="352.5" stroke="#000" stroke-width="0.75"/><line x1="66.7" y1="346.2" x2="71.2" y2="346.2" stroke="#000" stroke-width="0.75"/><line x1="469.3" y1="346.2" x2="464.8" y2="346.2" stroke="#000" stroke-width="0.75"/><line x1="66.7" y1="339.9" x2="71.2" y2="339.9" stroke="#000" stroke-width="0.75"/><line x1="469.3" y1="339.9" x2="464.8" y2="339.9" stroke="#000" stroke-width="0.75"/><line x1="66.7" y1="333.6" x2="72.9" y2="333.6" stroke="#000" stroke-width="1.4"/><line x1="469.3" y1="333.6" x2="463.1" y2="333.6" stroke="#000" stroke-width="1.4"/><line x1="66.7" y1="327.2" x2="71.2" y2="327.2" stroke="#000" stroke-width="0.75"/><line x1="469.3" y1="327.2" x2="464.8" y2="327.2" stroke="#000" stroke-width="0.75"/><line x1="66.7" y1="320.9" x2="71.2" y2="320.9" stroke="#000" stroke-width="0.75"/><line x1="469.3" y1="320.9" x2="464.8" y2="320.9" stroke="#000" stroke-width="0.75"/><line x1="66.7" y1="314.6" x2="71.2" y2="314.6" stroke="#000" stroke-width="0.75"/><line x1="469.3" y1="314.6" x2="464.8" y2="314.6" stroke="#000" stroke-width="0.75"/><line x1="66.7" y1="308.3" x2="71.2" y2="308.3" stroke="#000" stroke-width="0.75"/><line x1="469.3" y1="308.3" x2="464.8" y2="308.3" stroke="#000" stroke-width="0.75"/><line x1="66.7" y1="301.2" x2="66.7" y2="304.4" stroke="#000" stroke-width="1.6"/><line x1="66.7" y1="491.2" x2="66.7" y2="488.8" stroke="#000" stroke-width="1.6"/><line x1="86.8" y1="301.2" x2="86.8" y2="303.6" stroke="#000" stroke-width="0.9"/><line x1="86.8" y1="491.2" x2="86.8" y2="489.2" stroke="#000" stroke-width="0.9"/><line x1="107.0" y1="301.2" x2="107.0" y2="303.6" stroke="#000" stroke-width="0.9"/><line x1="107.0" y1="491.2" x2="107.0" y2="489.2" stroke="#000" stroke-width="0.9"/><line x1="127.1" y1="301.2" x2="127.1" y2="303.6" stroke="#000" stroke-width="0.9"/><line x1="127.1" y1="491.2" x2="127.1" y2="489.2" stroke="#000" stroke-width="0.9"/><line x1="147.2" y1="301.2" x2="147.2" y2="303.6" stroke="#000" stroke-width="0.9"/><line x1="147.2" y1="491.2" x2="147.2" y2="489.2" stroke="#000" stroke-width="0.9"/><line x1="167.4" y1="301.2" x2="167.4" y2="304.4" stroke="#000" stroke-width="1.6"/><line x1="167.4" y1="491.2" x2="167.4" y2="488.8" stroke="#000" stroke-width="1.6"/><line x1="187.5" y1="301.2" x2="187.5" y2="303.6" stroke="#000" stroke-width="0.9"/><line x1="187.5" y1="491.2" x2="187.5" y2="489.2" stroke="#000" stroke-width="0.9"/><line x1="207.6" y1="301.2" x2="207.6" y2="303.6" stroke="#000" stroke-width="0.9"/><line x1="207.6" y1="491.2" x2="207.6" y2="489.2" stroke="#000" stroke-width="0.9"/><line x1="227.7" y1="301.2" x2="227.7" y2="303.6" stroke="#000" stroke-width="0.9"/><line x1="227.7" y1="491.2" x2="227.7" y2="489.2" stroke="#000" stroke-width="0.9"/><line x1="247.9" y1="301.2" x2="247.9" y2="303.6" stroke="#000" stroke-width="0.9"/><line x1="247.9" y1="491.2" x2="247.9" y2="489.2" stroke="#000" stroke-width="0.9"/><line x1="268.0" y1="301.2" x2="268.0" y2="304.4" stroke="#000" stroke-width="1.6"/><line x1="268.0" y1="491.2" x2="268.0" y2="488.8" stroke="#000" stroke-width="1.6"/><line x1="288.1" y1="301.2" x2="288.1" y2="303.6" stroke="#000" stroke-width="0.9"/><line x1="288.1" y1="491.2" x2="288.1" y2="489.2" stroke="#000" stroke-width="0.9"/><line x1="308.3" y1="301.2" x2="308.3" y2="303.6" stroke="#000" stroke-width="0.9"/><line x1="308.3" y1="491.2" x2="308.3" y2="489.2" stroke="#000" stroke-width="0.9"/><line x1="328.4" y1="301.2" x2="328.4" y2="303.6" stroke="#000" stroke-width="0.9"/><line x1="328.4" y1="491.2" x2="328.4" y2="489.2" stroke="#000" stroke-width="0.9"/><line x1="348.5" y1="301.2" x2="348.5" y2="303.6" stroke="#000" stroke-width="0.9"/><line x1="348.5" y1="491.2" x2="348.5" y2="489.2" stroke="#000" stroke-width="0.9"/><line x1="368.7" y1="301.2" x2="368.7" y2="304.4" stroke="#000" stroke-width="1.6"/><line x1="368.7" y1="491.2" x2="368.7" y2="488.8" stroke="#000" stroke-width="1.6"/><line x1="388.8" y1="301.2" x2="388.8" y2="303.6" stroke="#000" stroke-width="0.9"/><line x1="388.8" y1="491.2" x2="388.8" y2="489.2" stroke="#000" stroke-width="0.9"/><line x1="408.9" y1="301.2" x2="408.9" y2="303.6" stroke="#000" stroke-width="0.9"/><line x1="408.9" y1="491.2" x2="408.9" y2="489.2" stroke="#000" stroke-width="0.9"/><line x1="429.0" y1="301.2" x2="429.0" y2="303.6" stroke="#000" stroke-width="0.9"/><line x1="429.0" y1="491.2" x2="429.0" y2="489.2" stroke="#000" stroke-width="0.9"/><line x1="449.2" y1="301.2" x2="449.2" y2="303.6" stroke="#000" stroke-width="0.9"/><line x1="449.2" y1="491.2" x2="449.2" y2="489.2" stroke="#000" stroke-width="0.9"/><line x1="469.3" y1="301.2" x2="469.3" y2="304.4" stroke="#000" stroke-width="1.6"/><line x1="469.3" y1="491.2" x2="469.3" y2="488.8" stroke="#000" stroke-width="1.6"/><text x="37.0" y="497.6" class="bl" textLength="21.6" lengthAdjust="spacingAndGlyphs">-500</text><text x="37.0" y="466.0" class="bl" textLength="21.6" lengthAdjust="spacingAndGlyphs">-300</text><text x="37.0" y="434.4" class="bl" textLength="21.6" lengthAdjust="spacingAndGlyphs">-100</text><text x="41.6" y="402.9" class="bl" textLength="17.0" lengthAdjust="spacingAndGlyphs">100</text><text x="41.6" y="371.3" class="bl" textLength="17.0" lengthAdjust="spacingAndGlyphs">300</text><text x="41.6" y="339.8" class="bl" textLength="17.0" lengthAdjust="spacingAndGlyphs">500</text><text x="41.6" y="308.2" class="bl" textLength="17.0" lengthAdjust="spacingAndGlyphs">700</text><text x="61.3" y="507.0" class="bl" textLength="11.0" lengthAdjust="spacingAndGlyphs">10</text><text x="162.0" y="507.0" class="bl" textLength="11.0" lengthAdjust="spacingAndGlyphs">20</text><text x="262.6" y="507.0" class="bl" textLength="11.0" lengthAdjust="spacingAndGlyphs">30</text><text x="363.3" y="507.0" class="bl" textLength="11.0" lengthAdjust="spacingAndGlyphs">40</text><text x="463.9" y="507.0" class="bl" textLength="11.0" lengthAdjust="spacingAndGlyphs">50</text><text transform="translate(20.9,422.6) rotate(-90)" class="by" textLength="112.6" lengthAdjust="spacingAndGlyphs">Intensity (arb. units)</text><text x="325.6" y="517.6" class="by2" textLength="33.0" lengthAdjust="spacingAndGlyphs">2θ (°)</text><text x="368.9" y="327.8" class="lg" fill="#000">gcsn1_7.PRF:</text><circle cx="382.9" cy="332.0" r="1.25" fill="#ff0000"/><line x1="377" y1="338.6" x2="388.6" y2="338.6" stroke="#000" stroke-width="1.1"/><line x1="377" y1="345.2" x2="388.6" y2="345.2" stroke="#3030ff" stroke-width="0.9"/><line x1="383.1" y1="349.0" x2="383.1" y2="355.2" stroke="#1e8c1e" stroke-width="1.0"/><text x="405" y="334.8" class="lg" fill="#ff2020">1. Yobs</text><text x="405" y="341.9" class="lg" fill="#000">2. Ycalc</text><text x="405" y="348.8" class="lg" fill="#3030ff">3. Yobs-Ycalc</text><text x="405" y="355.8" class="lg" fill="#1e8c1e">4. Bragg_position</text>
</g>
<text x="240.4" y="546.2" text-anchor="middle" class="cap" transform="rotate(0.02 240 540)">(<tspan font-weight="bold">b</tspan>)</text>
</svg>
</body></html>
